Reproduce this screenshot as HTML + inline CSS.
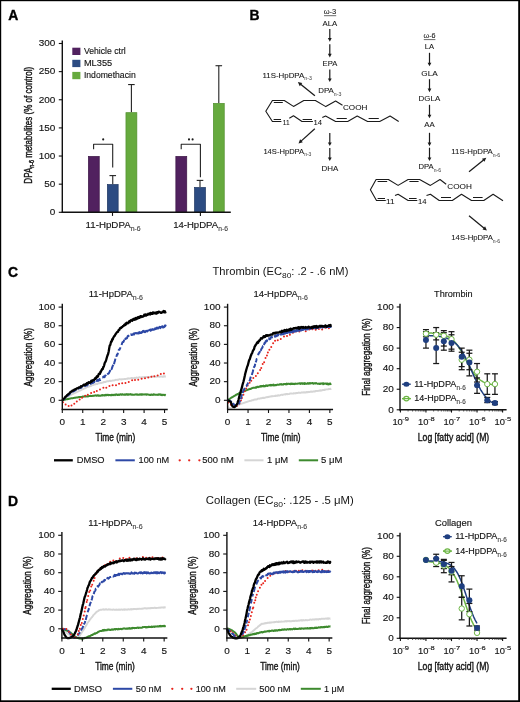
<!DOCTYPE html><html><head><meta charset="utf-8"><style>html,body{margin:0;padding:0;background:#fff;}svg{display:block; will-change:transform;} text{font-family:"Liberation Sans", sans-serif; stroke:#141414; stroke-width:0.14px;} text.cond{stroke-width:0.4px;} text.sm{stroke-width:0;} .pb text{stroke-width:0.07px;}</style></head><body>
<svg width="520" height="702" viewBox="0 0 520 702">
<text x="8.20" y="19.90" font-size="13.9" text-anchor="start" font-weight="bold" fill="#000" style="stroke:#000;stroke-width:0.35px">A</text>
<text x="249.40" y="20.10" font-size="13.9" text-anchor="start" font-weight="bold" fill="#000" style="stroke:#000;stroke-width:0.35px">B</text>
<text x="7.90" y="276.90" font-size="13.9" text-anchor="start" font-weight="bold" fill="#000" style="stroke:#000;stroke-width:0.35px">C</text>
<text x="7.90" y="505.90" font-size="13.9" text-anchor="start" font-weight="bold" fill="#000" style="stroke:#000;stroke-width:0.35px">D</text>
<rect x="88.35" y="156.38" width="10.90" height="55.92" fill="#51215f" stroke="#3c1747" stroke-width="0.7"/>
<line x1="112.75" y1="184.17" x2="112.75" y2="175.61" stroke="#222" stroke-width="1.1" />
<line x1="109.45" y1="175.61" x2="116.05" y2="175.61" stroke="#222" stroke-width="1.1" />
<rect x="107.35" y="184.52" width="10.80" height="27.78" fill="#2c4b82" stroke="#1f3762" stroke-width="0.7"/>
<line x1="131.40" y1="112.31" x2="131.40" y2="84.57" stroke="#222" stroke-width="1.1" />
<line x1="128.10" y1="84.57" x2="134.70" y2="84.57" stroke="#222" stroke-width="1.1" />
<rect x="125.95" y="112.66" width="10.90" height="99.64" fill="#66aa3e" stroke="#52902f" stroke-width="0.7"/>
<rect x="175.85" y="156.38" width="10.90" height="55.92" fill="#51215f" stroke="#3c1747" stroke-width="0.7"/>
<line x1="200.00" y1="187.09" x2="200.00" y2="180.39" stroke="#222" stroke-width="1.1" />
<line x1="196.70" y1="180.39" x2="203.30" y2="180.39" stroke="#222" stroke-width="1.1" />
<rect x="194.55" y="187.44" width="10.90" height="24.86" fill="#2c4b82" stroke="#1f3762" stroke-width="0.7"/>
<line x1="218.80" y1="103.02" x2="218.80" y2="65.72" stroke="#222" stroke-width="1.1" />
<line x1="215.50" y1="65.72" x2="222.10" y2="65.72" stroke="#222" stroke-width="1.1" />
<rect x="213.35" y="103.37" width="10.90" height="108.93" fill="#66aa3e" stroke="#52902f" stroke-width="0.7"/>
<line x1="62.30" y1="40.60" x2="62.30" y2="212.90" stroke="#111" stroke-width="1.4" />
<line x1="61.70" y1="212.30" x2="230.80" y2="212.30" stroke="#111" stroke-width="1.4" />
<line x1="58.80" y1="212.30" x2="62.30" y2="212.30" stroke="#111" stroke-width="1.1" />
<text x="55.35" y="215.05" font-size="9.5" text-anchor="end" fill="#141414" textLength="5.55" lengthAdjust="spacingAndGlyphs">0</text>
<line x1="58.80" y1="184.17" x2="62.30" y2="184.17" stroke="#111" stroke-width="1.1" />
<text x="55.35" y="186.92" font-size="9.5" text-anchor="end" fill="#141414" textLength="11.10" lengthAdjust="spacingAndGlyphs">50</text>
<line x1="58.80" y1="156.03" x2="62.30" y2="156.03" stroke="#111" stroke-width="1.1" />
<text x="55.35" y="158.78" font-size="9.5" text-anchor="end" fill="#141414" textLength="16.65" lengthAdjust="spacingAndGlyphs">100</text>
<line x1="58.80" y1="127.90" x2="62.30" y2="127.90" stroke="#111" stroke-width="1.1" />
<text x="55.35" y="130.65" font-size="9.5" text-anchor="end" fill="#141414" textLength="16.65" lengthAdjust="spacingAndGlyphs">150</text>
<line x1="58.80" y1="99.76" x2="62.30" y2="99.76" stroke="#111" stroke-width="1.1" />
<text x="55.35" y="102.51" font-size="9.5" text-anchor="end" fill="#141414" textLength="16.65" lengthAdjust="spacingAndGlyphs">200</text>
<line x1="58.80" y1="71.63" x2="62.30" y2="71.63" stroke="#111" stroke-width="1.1" />
<text x="55.35" y="74.38" font-size="9.5" text-anchor="end" fill="#141414" textLength="16.65" lengthAdjust="spacingAndGlyphs">250</text>
<line x1="58.80" y1="43.49" x2="62.30" y2="43.49" stroke="#111" stroke-width="1.1" />
<text x="55.35" y="46.24" font-size="9.5" text-anchor="end" fill="#141414" textLength="16.65" lengthAdjust="spacingAndGlyphs">300</text>
<line x1="112.50" y1="212.30" x2="112.50" y2="215.90" stroke="#111" stroke-width="1.1" />
<line x1="200.40" y1="212.30" x2="200.40" y2="215.90" stroke="#111" stroke-width="1.1" />
<polyline points="93.60,149.30 93.60,144.30 112.70,144.30 112.70,167.50" fill="none" stroke="#222" stroke-width="1.1" stroke-linejoin="round" />
<polyline points="181.20,149.30 181.20,144.30 200.40,144.30 200.40,177.20" fill="none" stroke="#222" stroke-width="1.1" stroke-linejoin="round" />
<circle cx="103.2" cy="139.4" r="1.05" fill="#1a1a1a"/>
<circle cx="189.0" cy="139.4" r="1.05" fill="#1a1a1a"/>
<circle cx="192.6" cy="139.4" r="1.05" fill="#1a1a1a"/>
<rect x="72.30" y="47.70" width="8.10" height="7.30" fill="#51215f"/>
<text x="83.91" y="54.20" font-size="8.9" font-weight="normal" fill="#141414" textLength="41.78" lengthAdjust="spacingAndGlyphs" >Vehicle ctrl</text>
<rect x="72.30" y="59.80" width="8.10" height="7.30" fill="#2c4b82"/>
<text x="83.91" y="66.10" font-size="8.9" font-weight="normal" fill="#141414" textLength="28.28" lengthAdjust="spacingAndGlyphs" >ML355</text>
<rect x="72.30" y="71.90" width="8.10" height="7.30" fill="#66aa3e"/>
<text x="83.91" y="78.00" font-size="8.9" font-weight="normal" fill="#141414" textLength="51.78" lengthAdjust="spacingAndGlyphs" >Indomethacin</text>
<text x="85.57" y="227.80" font-size="9.6" font-weight="normal" fill="#141414" textLength="55.06" lengthAdjust="spacingAndGlyphs" >11-HpDPA<tspan font-size="6.8" dy="2.80" fill="#444" stroke="#444">n-6</tspan></text>
<text x="173.17" y="227.80" font-size="9.6" font-weight="normal" fill="#141414" textLength="54.76" lengthAdjust="spacingAndGlyphs" >14-HpDPA<tspan font-size="6.8" dy="2.80" fill="#444" stroke="#444">n-6</tspan></text>
<g transform="translate(31.90,183.66) rotate(-90)"><text x="0" y="0" font-size="10.2" fill="#141414" class="cond" textLength="116.82" lengthAdjust="spacingAndGlyphs">DPA<tspan font-size="6.8" dy="2.2">n-6</tspan><tspan dy="-2.2"> metabolites (% of control)</tspan></text></g>
<g class="pb">
<text x="323.70" y="14.20" font-size="7.3" font-weight="normal" fill="#141414" textLength="12.60" lengthAdjust="spacingAndGlyphs" >ω-3</text>
<line x1="324.00" y1="15.70" x2="336.20" y2="15.70" stroke="#444" stroke-width="0.8" />
<text x="322.50" y="25.50" font-size="7.3" font-weight="normal" fill="#141414" textLength="14.70" lengthAdjust="spacingAndGlyphs" >ALA</text>
<line x1="329.80" y1="28.90" x2="329.80" y2="38.70" stroke="#1a1a1a" stroke-width="1.2" />
<path d="M327.90,38.10 L331.70,38.10 L329.80,41.70 Z" fill="#1a1a1a"/>
<line x1="329.80" y1="44.20" x2="329.80" y2="54.40" stroke="#1a1a1a" stroke-width="1.2" />
<path d="M327.90,53.80 L331.70,53.80 L329.80,57.40 Z" fill="#1a1a1a"/>
<text x="322.60" y="65.60" font-size="7.3" font-weight="normal" fill="#141414" textLength="14.70" lengthAdjust="spacingAndGlyphs" >EPA</text>
<line x1="329.80" y1="69.50" x2="329.80" y2="79.10" stroke="#1a1a1a" stroke-width="1.2" />
<path d="M327.90,78.50 L331.70,78.50 L329.80,82.10 Z" fill="#1a1a1a"/>
<text x="318.20" y="93.00" font-size="7.3" font-weight="normal" fill="#141414" textLength="23.20" lengthAdjust="spacingAndGlyphs" >DPA<tspan font-size="4.8" dy="2.70" fill="#555" stroke="#555">n-3</tspan></text>
<text x="262.50" y="77.50" font-size="7.3" font-weight="normal" fill="#141414" textLength="49.30" lengthAdjust="spacingAndGlyphs" >11S-HpDPA<tspan font-size="4.8" dy="2.70" fill="#555" stroke="#555">n-3</tspan></text>
<line x1="314.90" y1="95.80" x2="300.63" y2="84.30" stroke="#1a1a1a" stroke-width="1.25" />
<path d="M302.27,83.05 L299.76,86.17 L297.90,82.10 Z" fill="#1a1a1a"/>
<line x1="314.80" y1="128.70" x2="301.09" y2="141.15" stroke="#1a1a1a" stroke-width="1.25" />
<path d="M300.12,139.33 L302.81,142.29 L298.50,143.50 Z" fill="#1a1a1a"/>
<text x="263.40" y="153.70" font-size="7.3" font-weight="normal" fill="#141414" textLength="48.00" lengthAdjust="spacingAndGlyphs" >14S-HpDPA<tspan font-size="4.8" dy="2.70" fill="#555" stroke="#555">n-3</tspan></text>
<line x1="329.80" y1="133.00" x2="329.80" y2="143.00" stroke="#1a1a1a" stroke-width="1.2" />
<path d="M327.90,142.40 L331.70,142.40 L329.80,146.00 Z" fill="#1a1a1a"/>
<line x1="329.80" y1="147.90" x2="329.80" y2="158.00" stroke="#1a1a1a" stroke-width="1.2" />
<path d="M327.90,157.40 L331.70,157.40 L329.80,161.00 Z" fill="#1a1a1a"/>
<text x="321.50" y="171.00" font-size="7.3" font-weight="normal" fill="#141414" textLength="16.80" lengthAdjust="spacingAndGlyphs" >DHA</text>
<text x="343.00" y="109.90" font-size="7.3" font-weight="normal" fill="#141414" textLength="24.40" lengthAdjust="spacingAndGlyphs" >COOH</text>
<text x="282.80" y="124.70" font-size="7.3" font-weight="normal" fill="#141414" textLength="6.80" lengthAdjust="spacingAndGlyphs" >11</text>
<text x="313.40" y="124.70" font-size="7.3" font-weight="normal" fill="#141414" textLength="8.50" lengthAdjust="spacingAndGlyphs" >14</text>
<polyline points="342.50,105.20 335.60,101.00 325.80,106.60 315.40,100.50 303.80,100.50 293.50,106.40 284.30,100.50 272.40,100.50 265.80,111.20 272.40,121.50 281.40,121.50" fill="none" stroke="#1a1a1a" stroke-width="1.1" stroke-linejoin="round" />
<line x1="273.80" y1="102.50" x2="282.80" y2="102.50" stroke="#1a1a1a" stroke-width="1.0" />
<line x1="273.60" y1="119.50" x2="281.00" y2="119.50" stroke="#1a1a1a" stroke-width="1.0" />
<polyline points="289.30,118.20 293.50,115.70 302.00,121.50 312.90,121.50" fill="none" stroke="#1a1a1a" stroke-width="1.1" stroke-linejoin="round" />
<line x1="302.60" y1="119.50" x2="312.00" y2="119.50" stroke="#1a1a1a" stroke-width="1.0" />
<polyline points="322.30,117.60 325.60,116.00 335.60,121.50 347.70,121.50 357.20,116.00 367.60,121.50 379.70,121.50 390.10,116.00 398.70,121.50" fill="none" stroke="#1a1a1a" stroke-width="1.1" stroke-linejoin="round" />
<line x1="336.60" y1="118.50" x2="346.80" y2="118.50" stroke="#1a1a1a" stroke-width="1.0" />
<line x1="368.60" y1="118.50" x2="378.80" y2="118.50" stroke="#1a1a1a" stroke-width="1.0" />
<text x="423.50" y="38.30" font-size="7.3" font-weight="normal" fill="#141414" textLength="12.10" lengthAdjust="spacingAndGlyphs" >ω-6</text>
<line x1="423.80" y1="39.60" x2="435.40" y2="39.60" stroke="#444" stroke-width="0.8" />
<text x="424.70" y="48.80" font-size="7.3" font-weight="normal" fill="#141414" textLength="9.30" lengthAdjust="spacingAndGlyphs" >LA</text>
<line x1="429.50" y1="52.80" x2="429.50" y2="63.30" stroke="#1a1a1a" stroke-width="1.2" />
<path d="M427.60,62.70 L431.40,62.70 L429.50,66.30 Z" fill="#1a1a1a"/>
<text x="421.30" y="75.70" font-size="7.3" font-weight="normal" fill="#141414" textLength="16.40" lengthAdjust="spacingAndGlyphs" >GLA</text>
<line x1="429.50" y1="79.20" x2="429.50" y2="89.20" stroke="#1a1a1a" stroke-width="1.2" />
<path d="M427.60,88.60 L431.40,88.60 L429.50,92.20 Z" fill="#1a1a1a"/>
<text x="418.60" y="101.30" font-size="7.3" font-weight="normal" fill="#141414" textLength="21.60" lengthAdjust="spacingAndGlyphs" >DGLA</text>
<line x1="429.50" y1="104.80" x2="429.50" y2="115.30" stroke="#1a1a1a" stroke-width="1.2" />
<path d="M427.60,114.70 L431.40,114.70 L429.50,118.30 Z" fill="#1a1a1a"/>
<text x="424.30" y="127.30" font-size="7.3" font-weight="normal" fill="#141414" textLength="10.40" lengthAdjust="spacingAndGlyphs" >AA</text>
<line x1="429.50" y1="132.80" x2="429.50" y2="143.20" stroke="#1a1a1a" stroke-width="1.2" />
<path d="M427.60,142.60 L431.40,142.60 L429.50,146.20 Z" fill="#1a1a1a"/>
<line x1="429.50" y1="147.70" x2="429.50" y2="158.00" stroke="#1a1a1a" stroke-width="1.2" />
<path d="M427.60,157.40 L431.40,157.40 L429.50,161.00 Z" fill="#1a1a1a"/>
<text x="418.50" y="168.80" font-size="7.3" font-weight="normal" fill="#141414" textLength="22.50" lengthAdjust="spacingAndGlyphs" >DPA<tspan font-size="4.8" dy="2.70" fill="#555" stroke="#555">n-6</tspan></text>
<text x="451.30" y="154.40" font-size="7.3" font-weight="normal" fill="#141414" textLength="48.90" lengthAdjust="spacingAndGlyphs" >11S-HpDPA<tspan font-size="4.8" dy="2.70" fill="#555" stroke="#555">n-6</tspan></text>
<line x1="469.00" y1="171.70" x2="483.58" y2="159.90" stroke="#1a1a1a" stroke-width="1.25" />
<path d="M484.45,161.77 L481.93,158.66 L486.30,157.70 Z" fill="#1a1a1a"/>
<line x1="469.00" y1="215.80" x2="484.19" y2="228.19" stroke="#1a1a1a" stroke-width="1.25" />
<path d="M482.54,229.42 L485.06,226.32 L486.90,230.40 Z" fill="#1a1a1a"/>
<text x="451.30" y="239.80" font-size="7.3" font-weight="normal" fill="#141414" textLength="48.90" lengthAdjust="spacingAndGlyphs" >14S-HpDPA<tspan font-size="4.8" dy="2.70" fill="#555" stroke="#555">n-6</tspan></text>
<text x="447.30" y="188.80" font-size="7.3" font-weight="normal" fill="#141414" textLength="24.60" lengthAdjust="spacingAndGlyphs" >COOH</text>
<text x="386.10" y="203.80" font-size="7.3" font-weight="normal" fill="#141414" textLength="8.50" lengthAdjust="spacingAndGlyphs" >11</text>
<text x="418.10" y="203.80" font-size="7.3" font-weight="normal" fill="#141414" textLength="8.50" lengthAdjust="spacingAndGlyphs" >14</text>
<polyline points="446.20,184.20 440.00,179.50 430.40,185.40 419.60,179.50 408.10,179.50 398.10,185.40 388.40,179.50 376.10,179.50 370.40,189.70 376.50,200.50 385.80,200.50" fill="none" stroke="#1a1a1a" stroke-width="1.1" stroke-linejoin="round" />
<line x1="377.60" y1="181.50" x2="387.20" y2="181.50" stroke="#1a1a1a" stroke-width="1.0" />
<line x1="409.40" y1="181.50" x2="418.60" y2="181.50" stroke="#1a1a1a" stroke-width="1.0" />
<line x1="377.60" y1="198.50" x2="385.00" y2="198.50" stroke="#1a1a1a" stroke-width="1.0" />
<polyline points="395.00,195.60 398.10,194.30 408.10,200.50 417.30,200.50" fill="none" stroke="#1a1a1a" stroke-width="1.1" stroke-linejoin="round" />
<line x1="409.00" y1="198.50" x2="416.60" y2="198.50" stroke="#1a1a1a" stroke-width="1.0" />
<polyline points="426.50,195.60 430.40,194.30 439.20,200.50 452.30,200.50 461.50,194.20 471.50,200.50 483.80,200.50 493.10,194.20 503.00,200.70" fill="none" stroke="#1a1a1a" stroke-width="1.1" stroke-linejoin="round" />
<line x1="441.00" y1="197.50" x2="451.00" y2="197.50" stroke="#1a1a1a" stroke-width="1.0" />
<line x1="473.00" y1="197.50" x2="482.60" y2="197.50" stroke="#1a1a1a" stroke-width="1.0" />
</g>
<text x="212.53" y="275.00" font-size="10.4" font-weight="normal" fill="#141414" textLength="135.84" lengthAdjust="spacingAndGlyphs" class="sm">Thrombin (EC<tspan font-size="7.8" dy="2.5">80</tspan><tspan dy="-2.5">: .2 - .6 nM)</tspan></text>
<polyline points="62.30,400.30 62.57,400.12 62.90,399.89 63.27,399.63 63.69,399.37 64.15,399.08 64.64,398.64 65.16,398.39 65.70,397.93 66.27,397.59 66.85,397.27 67.44,396.81 68.04,396.54 68.64,396.12 69.05,395.96 69.48,395.72 69.91,395.43 70.35,395.12 70.79,395.02 71.25,394.77 71.71,394.45 72.19,394.16 72.67,393.99 73.15,393.79 73.65,393.43 74.15,393.37 74.66,392.97 75.17,392.84 75.69,392.62 76.22,392.38 76.76,392.09 77.30,391.73 77.84,391.61 78.26,391.32 78.69,391.11 79.13,390.96 79.57,390.71 80.02,390.63 80.47,390.42 80.93,390.16 81.39,389.81 81.86,389.66 82.33,389.48 82.80,389.17 83.28,388.99 83.76,388.83 84.24,388.43 84.72,388.24 85.20,388.20 85.68,387.86 86.17,387.67 86.65,387.31 87.13,387.17 87.61,387.16 88.08,386.66 88.56,386.86 89.03,386.54 89.50,386.20 89.96,386.32 90.43,385.98 90.90,386.05 91.36,385.56 91.83,385.34 92.30,385.29 92.76,384.96 93.23,385.12 93.69,384.76 94.16,384.67 94.63,384.54 95.09,384.46 95.56,384.11 96.03,383.91 96.49,384.04 96.96,383.80 97.42,384.01 97.89,383.52 98.36,383.43 98.82,383.11 99.29,383.08 99.76,383.26 100.22,383.08 100.69,382.80 101.16,383.05 101.62,382.68 102.07,382.74 102.53,382.65 102.97,382.58 103.41,382.08 103.85,382.34 104.29,382.17 104.73,381.99 105.16,381.63 105.60,381.98 106.04,381.68 106.48,381.54 106.92,381.26 107.37,381.21 107.82,381.10 108.28,381.34 108.75,381.18 109.22,381.13 109.70,380.75 110.19,380.62 110.69,380.99 111.20,380.89 111.73,380.77 112.26,380.68 112.81,380.46 113.22,380.33 113.64,380.45 114.06,380.53 114.49,380.24 114.92,380.20 115.36,380.02 115.80,379.74 116.25,379.83 116.70,379.86 117.16,379.74 117.62,379.64 118.08,379.93 118.55,379.39 119.02,379.40 119.50,379.28 119.97,379.26 120.45,379.43 120.94,379.36 121.43,379.46 121.92,379.11 122.41,379.37 122.90,379.30 123.40,379.17 123.90,379.13 124.40,378.98 124.90,379.08 125.41,379.05 125.91,378.91 126.42,378.88 126.93,378.68 127.44,378.82 127.95,378.29 128.46,378.39 128.97,378.59 129.40,378.49 129.84,378.40 130.29,378.35 130.73,378.44 131.18,377.99 131.63,377.87 132.08,378.12 132.54,378.07 133.00,378.25 133.46,378.20 133.92,378.03 134.38,378.03 134.85,377.68 135.32,378.01 135.78,378.05 136.25,377.49 136.72,377.69 137.20,377.87 137.67,377.61 138.14,377.86 138.62,377.55 139.09,377.26 139.57,377.29 140.04,377.35 140.52,377.56 141.00,377.47 141.47,377.55 141.95,377.18 142.42,377.28 142.90,377.11 143.37,377.33 143.84,377.36 144.31,377.01 144.78,376.88 145.25,376.93 145.72,376.93 146.19,376.90 146.65,376.91 147.12,377.18 147.58,376.99 148.05,377.06 148.54,377.22 149.04,377.20 149.55,377.03 150.06,377.03 150.58,376.76 151.11,376.60 151.64,376.87 152.18,376.57 152.72,376.53 153.26,376.53 153.80,376.85 154.35,376.91 154.89,376.90 155.43,376.90 155.98,376.88 156.51,376.64 157.05,376.47 157.58,376.49 158.10,376.69 158.62,376.58 159.13,376.49 159.63,376.88 160.12,376.55 160.60,376.40 161.07,376.46 161.53,376.47 161.98,376.62 162.41,376.78 162.83,376.43 163.23,376.68 163.62,376.41 163.98,376.31 164.33,376.62 164.66,376.61 164.97,376.30 165.26,376.42 165.53,376.72 165.78,376.74" fill="none" stroke="#d5d5d5" stroke-width="1.9" stroke-linejoin="round" />
<polyline points="62.30,400.30 62.56,400.24 62.87,400.16 63.23,400.08 63.63,400.07 64.06,399.77 64.53,399.68 65.03,399.73 65.56,399.43 66.10,399.27 66.67,399.22 67.25,399.18 67.84,399.01 68.44,399.00 68.83,398.95 69.23,398.63 69.65,398.63 70.07,398.58 70.50,398.40 70.95,398.45 71.40,398.25 71.85,398.18 72.32,398.26 72.79,398.16 73.27,398.07 73.76,398.00 74.25,397.83 74.75,397.83 75.26,397.71 75.76,397.71 76.28,397.43 76.80,397.50 77.32,397.40 77.84,397.29 78.26,397.14 78.68,397.23 79.11,397.02 79.53,397.10 79.95,397.04 80.38,396.99 80.81,397.12 81.24,396.92 81.68,396.97 82.12,397.00 82.56,396.62 83.01,396.84 83.46,396.66 83.92,396.49 84.39,396.53 84.86,396.59 85.34,396.45 85.83,396.39 86.33,396.21 86.83,396.54 87.34,396.25 87.87,396.38 88.40,396.33 88.94,395.98 89.50,396.10 89.90,396.04 90.31,395.87 90.73,395.74 91.15,396.02 91.57,395.88 92.00,395.92 92.44,395.89 92.88,395.73 93.32,395.88 93.77,395.79 94.22,395.80 94.68,395.43 95.14,395.58 95.61,395.42 96.07,395.34 96.54,395.82 97.02,395.57 97.50,395.26 97.98,395.31 98.46,395.81 98.94,395.80 99.43,395.53 99.92,395.78 100.41,395.63 100.90,395.73 101.39,395.26 101.89,395.15 102.38,395.04 102.88,395.57 103.37,395.13 103.87,395.15 104.37,395.51 104.86,394.93 105.36,394.85 105.86,395.38 106.31,394.82 106.75,395.21 107.20,395.12 107.65,394.73 108.11,394.82 108.56,395.30 109.02,395.08 109.48,395.00 109.94,395.11 110.40,395.20 110.86,395.09 111.32,394.77 111.79,395.27 112.26,394.85 112.72,394.92 113.19,395.21 113.66,394.96 114.13,394.72 114.61,394.79 115.08,395.11 115.56,394.40 116.03,394.53 116.51,394.38 116.99,395.01 117.47,394.87 117.95,395.02 118.43,394.46 118.91,394.82 119.39,394.91 119.88,394.68 120.36,394.30 120.85,394.36 121.33,394.76 121.82,394.83 122.31,394.25 122.80,394.50 123.28,394.39 123.77,394.84 124.26,394.85 124.72,394.37 125.18,394.56 125.63,394.82 126.09,394.17 126.55,394.39 127.01,394.26 127.47,394.79 127.93,394.21 128.39,394.80 128.85,394.20 129.31,394.50 129.77,394.59 130.24,394.42 130.70,394.14 131.17,394.64 131.63,394.74 132.10,394.44 132.57,394.66 133.04,394.75 133.51,394.71 133.98,394.80 134.45,394.69 134.92,394.61 135.39,394.61 135.87,394.28 136.34,394.63 136.82,394.47 137.30,394.72 137.78,394.59 138.26,394.84 138.74,394.67 139.22,394.85 139.70,394.32 140.19,394.46 140.67,394.73 141.16,394.52 141.64,394.18 142.13,394.80 142.62,394.27 143.11,394.57 143.61,394.52 144.10,394.27 144.56,394.60 145.03,394.52 145.50,394.39 145.99,394.18 146.49,394.66 147.00,394.30 147.51,394.40 148.03,394.46 148.56,394.63 149.09,394.68 149.63,394.91 150.17,394.86 150.71,394.91 151.26,394.42 151.81,394.78 152.36,394.86 152.91,394.93 153.46,394.37 154.01,394.35 154.56,394.51 155.10,394.81 155.64,394.85 156.18,394.82 156.71,394.70 157.24,394.93 157.76,394.72 158.27,394.87 158.78,394.35 159.28,394.35 159.77,394.68 160.25,394.91 160.72,394.38 161.17,394.88 161.62,394.85 162.05,395.12 162.47,394.84 162.88,394.78 163.27,394.76 163.65,394.99 164.00,394.77 164.35,395.15 164.67,394.96 164.98,395.10 165.26,394.87 165.53,395.14 165.78,395.16" fill="none" stroke="#3d8a2e" stroke-width="2.0" stroke-linejoin="round" />
<circle cx="63.02" cy="402.37" r="1.0" fill="#e8241c"/>
<circle cx="65.63" cy="404.44" r="1.0" fill="#e8241c"/>
<circle cx="68.64" cy="405.89" r="1.0" fill="#e8241c"/>
<circle cx="71.50" cy="405.60" r="1.0" fill="#e8241c"/>
<circle cx="74.28" cy="403.77" r="1.0" fill="#e8241c"/>
<circle cx="76.79" cy="401.44" r="1.0" fill="#e8241c"/>
<circle cx="79.67" cy="399.50" r="1.0" fill="#e8241c"/>
<circle cx="82.08" cy="397.68" r="1.0" fill="#e8241c"/>
<circle cx="85.21" cy="395.87" r="1.0" fill="#e8241c"/>
<circle cx="87.82" cy="394.85" r="1.0" fill="#e8241c"/>
<circle cx="91.14" cy="392.99" r="1.0" fill="#e8241c"/>
<circle cx="94.20" cy="392.01" r="1.0" fill="#e8241c"/>
<circle cx="96.80" cy="391.08" r="1.0" fill="#e8241c"/>
<circle cx="100.00" cy="389.38" r="1.0" fill="#e8241c"/>
<circle cx="103.36" cy="387.81" r="1.0" fill="#e8241c"/>
<circle cx="106.30" cy="387.66" r="1.0" fill="#e8241c"/>
<circle cx="109.42" cy="386.00" r="1.0" fill="#e8241c"/>
<circle cx="112.65" cy="385.20" r="1.0" fill="#e8241c"/>
<circle cx="116.02" cy="385.19" r="1.0" fill="#e8241c"/>
<circle cx="119.04" cy="383.65" r="1.0" fill="#e8241c"/>
<circle cx="122.21" cy="383.36" r="1.0" fill="#e8241c"/>
<circle cx="125.44" cy="382.89" r="1.0" fill="#e8241c"/>
<circle cx="128.77" cy="382.00" r="1.0" fill="#e8241c"/>
<circle cx="132.13" cy="380.36" r="1.0" fill="#e8241c"/>
<circle cx="134.98" cy="379.91" r="1.0" fill="#e8241c"/>
<circle cx="138.28" cy="379.63" r="1.0" fill="#e8241c"/>
<circle cx="141.64" cy="378.67" r="1.0" fill="#e8241c"/>
<circle cx="144.99" cy="378.35" r="1.0" fill="#e8241c"/>
<circle cx="148.28" cy="377.51" r="1.0" fill="#e8241c"/>
<circle cx="151.42" cy="376.74" r="1.0" fill="#e8241c"/>
<circle cx="154.40" cy="376.18" r="1.0" fill="#e8241c"/>
<circle cx="157.67" cy="375.43" r="1.0" fill="#e8241c"/>
<circle cx="160.81" cy="373.91" r="1.0" fill="#e8241c"/>
<circle cx="163.91" cy="373.38" r="1.0" fill="#e8241c"/>
<polyline points="62.30,400.30 62.56,400.09 62.85,399.84 63.19,399.55 63.56,399.38 63.96,399.11 64.39,398.72 64.84,398.11 65.32,397.60 65.81,397.02" fill="none" stroke="#2d48a6" stroke-width="2.0" stroke-linejoin="round" stroke-linecap="butt"/>
<polyline points="66.85,396.30 67.39,395.77 67.93,395.50 68.48,394.98 69.03,394.83 69.58,393.94 70.13,393.83 70.66,393.00" fill="none" stroke="#2d48a6" stroke-width="2.0" stroke-linejoin="round" stroke-linecap="butt"/>
<polyline points="72.20,392.31 72.68,391.90 73.14,391.37 73.65,391.00 74.15,391.04 74.65,390.77 75.15,390.23 75.64,389.94 76.13,389.81 76.62,389.67" fill="none" stroke="#2d48a6" stroke-width="2.0" stroke-linejoin="round" stroke-linecap="butt"/>
<polyline points="78.06,388.98 78.53,388.68 79.01,388.12 79.48,388.15 79.95,387.76 80.42,387.89 80.89,387.91 81.35,387.71 81.82,386.87 82.28,386.89 82.75,387.07" fill="none" stroke="#2d48a6" stroke-width="2.0" stroke-linejoin="round" stroke-linecap="butt"/>
<polyline points="84.20,386.04 84.68,386.10 85.15,386.08 85.62,385.40 86.09,384.88 86.56,385.53 87.03,385.59 87.50,385.00 87.96,384.70 88.43,384.14" fill="none" stroke="#2d48a6" stroke-width="2.0" stroke-linejoin="round" stroke-linecap="butt"/>
<polyline points="90.31,383.58 90.79,383.83 91.27,382.44 91.75,383.26 92.21,382.24 92.69,383.01 93.17,382.83 93.66,381.73 94.15,382.31 94.64,381.01" fill="none" stroke="#2d48a6" stroke-width="2.0" stroke-linejoin="round" stroke-linecap="butt"/>
<polyline points="96.14,381.63 96.63,381.10 97.12,380.48 97.61,379.80 98.09,380.94 98.56,380.32 99.02,380.41 99.48,378.93 99.92,380.11 100.34,380.05 100.76,379.82" fill="none" stroke="#2d48a6" stroke-width="2.0" stroke-linejoin="round" stroke-linecap="butt"/>
<polyline points="102.29,377.56 102.82,377.48 103.32,376.71 103.80,376.49 104.26,377.17 104.71,377.07 105.15,375.46 105.58,375.41 106.01,376.24" fill="none" stroke="#2d48a6" stroke-width="2.0" stroke-linejoin="round" stroke-linecap="butt"/>
<polyline points="107.29,374.42 107.80,373.95 108.30,373.66 108.80,373.36 109.29,372.30 109.78,371.56 110.25,369.91" fill="none" stroke="#2d48a6" stroke-width="2.0" stroke-linejoin="round" stroke-linecap="butt"/>
<polyline points="111.15,368.57 111.59,369.14 112.00,368.18 112.40,366.67 112.98,365.47 113.51,364.85" fill="none" stroke="#2d48a6" stroke-width="2.0" stroke-linejoin="round" stroke-linecap="butt"/>
<polyline points="114.00,364.17 114.46,362.10 114.92,360.90 115.39,358.62" fill="none" stroke="#2d48a6" stroke-width="2.0" stroke-linejoin="round" stroke-linecap="butt"/>
<polyline points="116.39,356.88 116.92,354.62 117.44,354.70 117.97,352.71" fill="none" stroke="#2d48a6" stroke-width="2.0" stroke-linejoin="round" stroke-linecap="butt"/>
<polyline points="118.50,350.71 119.03,349.51 119.56,349.53 120.08,348.41 120.58,347.29" fill="none" stroke="#2d48a6" stroke-width="2.0" stroke-linejoin="round" stroke-linecap="butt"/>
<polyline points="121.58,344.94 122.10,343.17 122.65,341.99 123.24,342.04 123.67,341.54 124.11,339.79" fill="none" stroke="#2d48a6" stroke-width="2.0" stroke-linejoin="round" stroke-linecap="butt"/>
<polyline points="125.01,339.80 125.48,338.49 125.96,338.63 126.47,338.19 127.00,338.17 127.56,336.45 128.15,335.76 128.55,335.97 128.95,335.22" fill="none" stroke="#2d48a6" stroke-width="2.0" stroke-linejoin="round" stroke-linecap="butt"/>
<polyline points="130.60,334.39 131.04,334.22 131.50,335.01 131.97,335.08 132.46,334.62 132.97,334.35 133.51,333.46 134.08,334.55 134.68,333.34 135.31,333.26 135.69,333.01 136.09,332.99 136.51,333.16 136.94,333.52 137.39,333.42 137.85,333.24 138.32,332.43 138.80,333.50 139.29,333.19 139.78,332.15 140.29,332.89 140.79,333.09 141.30,333.03 141.81,332.05 142.32,332.32 142.83,331.12 143.34,331.17 143.84,330.89 144.34,331.99 144.84,332.19 145.32,332.06 145.80,331.28 146.26,330.82 146.71,331.16 147.15,331.41 147.58,331.01 148.11,330.53 148.64,330.31 149.15,330.05 149.65,329.76 150.14,329.93 150.63,330.72 151.11,329.38 151.57,330.17 152.04,329.59 152.50,329.79 152.95,329.05 153.40,329.83 153.85,329.62 154.30,329.50 154.74,329.53 155.19,328.19 155.63,328.58 156.08,328.88 156.53,328.64 156.98,327.52 157.50,328.20 158.04,328.53 158.59,327.42 159.15,327.53 159.72,326.82 160.29,328.17 160.85,327.40 161.42,326.68 161.97,326.50 162.51,326.24 163.02,327.58 163.52,327.03 163.99,327.20 164.43,326.97 164.83,325.56 165.19,326.12 165.51,325.46 165.78,326.33" fill="none" stroke="#2d48a6" stroke-width="2.0" stroke-linejoin="round" stroke-linecap="butt"/>
<polyline points="62.30,400.30 62.58,400.00 62.94,399.62 63.37,398.96 63.84,398.70 64.36,398.27 64.91,397.39 65.47,396.69 66.05,396.59 66.62,395.71 67.17,395.13 67.70,394.84 68.19,394.27 68.64,393.99 69.19,393.44 69.66,392.97 70.09,392.38 70.48,392.00 70.89,391.94 71.33,391.73 71.83,391.21 72.42,390.64 73.14,390.51 73.50,390.23 73.90,390.09 74.31,389.53 74.74,389.46 75.20,389.52 75.67,389.28 76.15,388.88 76.64,388.56 77.15,388.27 77.66,388.38 78.18,388.11 78.70,387.51 79.23,387.48 79.75,387.34 80.27,387.09 80.79,386.32 81.29,386.63 81.79,386.17 82.28,386.13 82.75,385.84 83.24,385.15 83.74,384.75 84.24,385.18 84.74,385.12 85.25,384.28 85.75,384.65 86.25,384.65 86.75,383.30 87.25,383.66 87.74,382.89 88.22,383.19 88.70,382.29 89.17,382.63 89.63,382.82 90.08,382.80 90.52,381.76 90.94,381.38 91.35,380.70 91.75,381.76 92.34,380.52 92.90,380.57 93.43,379.98 93.94,380.22 94.42,379.64 94.88,378.88 95.33,377.83 95.76,378.82 96.19,377.78 96.62,376.84 97.04,376.12 97.47,376.95 98.00,376.46 98.52,374.44 99.03,373.70 99.54,373.81 100.03,373.80 100.51,371.60 100.96,371.78 101.40,370.20 101.80,369.99 102.18,369.00 102.80,368.99 103.27,366.98 103.68,366.95 104.11,365.53 104.63,363.37 105.09,362.13 105.59,361.77 106.11,360.15 106.65,358.22 107.17,356.38 107.67,355.01 108.11,353.96 108.73,351.30 109.23,348.12 109.74,345.56 110.36,344.87 110.78,342.86 111.23,341.45 111.70,341.62 112.19,339.28 112.72,339.51 113.26,337.73 113.83,336.84 114.25,336.03 114.68,335.89 115.12,335.02 115.58,334.08 116.05,333.69 116.52,332.64 117.01,332.36 117.51,331.74 118.02,331.81 118.54,330.20 118.97,329.92 119.39,329.85 119.81,328.48 120.23,327.98 120.66,328.05 121.11,328.05 121.56,327.10 122.04,327.26 122.55,326.77 123.08,325.82 123.65,325.94 124.26,324.91 124.65,324.52 125.06,325.04 125.48,323.77 125.91,324.43 126.36,323.07 126.82,322.73 127.29,322.90 127.77,323.40 128.26,322.39 128.75,322.33 129.25,321.11 129.75,322.22 130.25,320.76 130.75,320.27 131.25,320.46 131.74,320.08 132.24,320.88 132.72,319.33 133.20,319.92 133.67,318.92 134.16,318.75 134.65,319.79 135.13,318.52 135.62,318.06 136.10,319.30 136.58,318.61 137.07,317.72 137.55,318.52 138.03,317.09 138.51,317.94 138.99,316.84 139.48,317.78 139.96,316.99 140.44,316.11 140.93,317.12 141.41,316.86 141.90,316.28 142.38,316.42 142.87,316.73 143.33,316.33 143.79,316.22 144.23,314.77 144.68,315.06 145.11,314.56 145.55,315.65 145.99,314.48 146.42,315.48 146.86,314.66 147.31,314.36 147.76,314.70 148.21,313.72 148.68,314.14 149.15,313.98 149.64,313.36 150.13,314.55 150.65,312.95 151.17,313.44 151.72,313.73 152.28,312.94 152.69,313.75 153.12,312.46 153.57,313.07 154.04,313.36 154.53,312.60 155.04,313.06 155.55,313.43 156.08,312.39 156.62,313.48 157.16,312.11 157.70,312.98 158.25,312.26 158.80,311.60 159.35,312.19 159.89,311.99 160.42,312.51 160.95,312.96 161.46,312.84 161.96,312.58 162.45,311.73 162.92,311.98 163.37,311.78 163.79,311.08 164.20,312.31 164.57,312.10 164.92,311.34 165.24,312.36 165.53,312.35 165.78,311.72" fill="none" stroke="#000" stroke-width="2.3" stroke-linejoin="round" />
<line x1="62.30" y1="303.80" x2="62.30" y2="410.10" stroke="#111" stroke-width="1.4" />
<line x1="61.70" y1="409.50" x2="167.75" y2="409.50" stroke="#111" stroke-width="1.4" />
<line x1="58.60" y1="400.30" x2="62.30" y2="400.30" stroke="#111" stroke-width="1.1" />
<text x="55.20" y="403.05" font-size="9.5" text-anchor="end" fill="#141414" textLength="5.55" lengthAdjust="spacingAndGlyphs">0</text>
<line x1="58.60" y1="381.66" x2="62.30" y2="381.66" stroke="#111" stroke-width="1.1" />
<text x="55.20" y="384.41" font-size="9.5" text-anchor="end" fill="#141414" textLength="11.10" lengthAdjust="spacingAndGlyphs">20</text>
<line x1="58.60" y1="363.02" x2="62.30" y2="363.02" stroke="#111" stroke-width="1.1" />
<text x="55.20" y="365.77" font-size="9.5" text-anchor="end" fill="#141414" textLength="11.10" lengthAdjust="spacingAndGlyphs">40</text>
<line x1="58.60" y1="344.38" x2="62.30" y2="344.38" stroke="#111" stroke-width="1.1" />
<text x="55.20" y="347.13" font-size="9.5" text-anchor="end" fill="#141414" textLength="11.10" lengthAdjust="spacingAndGlyphs">60</text>
<line x1="58.60" y1="325.74" x2="62.30" y2="325.74" stroke="#111" stroke-width="1.1" />
<text x="55.20" y="328.49" font-size="9.5" text-anchor="end" fill="#141414" textLength="11.10" lengthAdjust="spacingAndGlyphs">80</text>
<line x1="58.60" y1="307.10" x2="62.30" y2="307.10" stroke="#111" stroke-width="1.1" />
<text x="55.20" y="309.85" font-size="9.5" text-anchor="end" fill="#141414" textLength="16.65" lengthAdjust="spacingAndGlyphs">100</text>
<line x1="62.30" y1="409.50" x2="62.30" y2="413.00" stroke="#111" stroke-width="1.1" />
<text x="62.30" y="425.40" font-size="9.5" text-anchor="middle" fill="#141414" textLength="5.55" lengthAdjust="spacingAndGlyphs">0</text>
<line x1="82.75" y1="409.50" x2="82.75" y2="413.00" stroke="#111" stroke-width="1.1" />
<text x="82.75" y="425.40" font-size="9.5" text-anchor="middle" fill="#141414" textLength="5.55" lengthAdjust="spacingAndGlyphs">1</text>
<line x1="103.20" y1="409.50" x2="103.20" y2="413.00" stroke="#111" stroke-width="1.1" />
<text x="103.20" y="425.40" font-size="9.5" text-anchor="middle" fill="#141414" textLength="5.55" lengthAdjust="spacingAndGlyphs">2</text>
<line x1="123.65" y1="409.50" x2="123.65" y2="413.00" stroke="#111" stroke-width="1.1" />
<text x="123.65" y="425.40" font-size="9.5" text-anchor="middle" fill="#141414" textLength="5.55" lengthAdjust="spacingAndGlyphs">3</text>
<line x1="144.10" y1="409.50" x2="144.10" y2="413.00" stroke="#111" stroke-width="1.1" />
<text x="144.10" y="425.40" font-size="9.5" text-anchor="middle" fill="#141414" textLength="5.55" lengthAdjust="spacingAndGlyphs">4</text>
<line x1="164.55" y1="409.50" x2="164.55" y2="413.00" stroke="#111" stroke-width="1.1" />
<text x="164.55" y="425.40" font-size="9.5" text-anchor="middle" fill="#141414" textLength="5.55" lengthAdjust="spacingAndGlyphs">5</text>
<text x="88.78" y="296.90" font-size="9.5" font-weight="normal" fill="#141414" textLength="54.25" lengthAdjust="spacingAndGlyphs" >11-HpDPA<tspan font-size="7.0" dy="2.90" fill="#444" stroke="#444">n-6</tspan></text>
<text x="95.61" y="440.50" font-size="10.8" font-weight="normal" fill="#141414" textLength="39.69" lengthAdjust="spacingAndGlyphs" class="cond">Time (min)</text>
<g transform="translate(31.60,386.40) rotate(-90)"><text x="0" y="0" font-size="10.9" fill="#141414" class="cond" textLength="58.40" lengthAdjust="spacingAndGlyphs">Aggregation (%)</text></g>
<polyline points="227.60,405.89 227.80,406.23 227.98,406.77 228.24,407.38 228.68,407.99 229.38,408.27 230.46,408.28 230.76,408.14 231.09,408.06 231.45,408.03 231.82,407.82 232.22,407.71 232.64,407.62 233.08,407.30 233.53,407.25 234.00,407.07 234.48,406.88 234.98,406.56 235.48,406.29 235.99,406.08 236.51,405.92 237.04,405.71 237.57,405.53 238.10,405.16 238.63,404.94 239.16,404.75 239.68,404.46 240.20,404.28 240.72,403.96 241.23,403.79 241.72,403.68 242.21,403.36 242.68,403.35 243.14,403.09 243.63,402.95 244.11,402.82 244.59,402.71 245.06,402.37 245.54,402.41 246.01,402.11 246.48,401.85 246.95,401.94 247.41,401.78 247.88,401.51 248.34,401.40 248.80,401.22 249.26,401.02 249.73,401.12 250.18,400.94 250.64,400.81 251.10,400.79 251.56,400.33 252.02,400.24 252.48,400.15 252.94,400.33 253.41,399.84 253.87,399.77 254.33,399.78 254.80,399.53 255.26,399.56 255.70,399.56 256.12,399.53 256.54,399.36 256.95,399.37 257.35,399.13 257.74,398.81 258.13,398.75 258.52,398.58 258.91,398.57 259.31,398.74 259.71,398.50 260.12,398.48 260.54,398.20 260.97,398.27 261.41,398.33 261.88,398.03 262.36,397.77 262.86,398.09 263.39,397.63 263.94,398.02 264.52,397.78 265.13,397.69 265.78,397.30 266.45,397.07 266.81,397.12 267.18,397.29 267.56,396.92 267.95,397.16 268.34,397.15 268.74,396.70 269.15,396.79 269.57,396.69 270.00,396.63 270.43,396.38 270.87,396.60 271.31,396.32 271.76,396.32 272.22,396.16 272.68,396.32 273.15,396.08 273.62,396.09 274.09,396.16 274.57,396.13 275.06,395.83 275.55,396.05 276.04,395.51 276.53,395.86 277.03,395.84 277.53,395.72 278.03,395.18 278.54,395.43 279.04,395.47 279.55,395.45 280.06,395.37 280.57,394.93 281.08,394.88 281.59,394.77 282.10,394.67 282.61,394.97 283.12,394.60 283.63,394.66 284.14,394.33 284.64,394.26 285.15,394.14 285.65,394.54 286.15,394.02 286.65,393.92 287.14,393.84 287.64,394.24 288.12,394.12 288.61,394.11 289.09,394.10 289.56,393.58 290.03,393.54 290.50,393.59 290.97,393.43 291.44,393.48 291.91,393.62 292.38,393.67 292.86,393.62 293.34,393.21 293.82,393.47 294.29,393.36 294.78,393.25 295.26,393.43 295.74,393.25 296.22,393.19 296.70,392.91 297.19,393.06 297.67,393.04 298.15,392.64 298.64,392.85 299.12,392.62 299.60,392.71 300.08,392.99 300.57,392.74 301.05,392.69 301.53,392.46 302.01,392.66 302.48,392.42 302.96,392.47 303.44,392.61 303.91,392.21 304.38,392.60 304.85,392.15 305.32,392.48 305.79,392.53 306.25,392.38 306.71,392.02 307.17,391.86 307.63,392.36 308.09,392.05 308.54,392.01 308.99,391.79 309.43,392.09 309.88,391.87 310.32,391.91 310.75,391.59 311.18,391.87 311.61,391.44 312.04,391.76 312.46,391.75 312.88,391.43 313.41,391.47 313.95,391.62 314.49,391.26 315.04,391.50 315.59,391.03 316.14,391.00 316.69,390.87 317.25,390.88 317.80,390.96 318.35,390.85 318.90,390.77 319.45,390.41 320.00,390.78 320.54,390.24 321.08,390.64 321.61,390.46 322.14,390.34 322.66,389.90 323.18,390.04 323.69,390.03 324.19,389.66 324.68,389.95 325.16,389.74 325.63,389.62 326.10,389.42 326.55,389.35 326.99,389.33 327.41,389.43 327.83,389.37 328.22,389.40 328.61,388.95 328.98,388.99 329.33,388.89 329.67,389.15 329.99,388.95 330.29,388.72 330.57,388.78 330.83,388.99 331.08,388.76" fill="none" stroke="#d5d5d5" stroke-width="1.9" stroke-linejoin="round" />
<polyline points="227.60,400.30 227.87,400.12 228.20,399.89 228.57,399.63 228.99,399.21 229.45,399.09 229.94,398.77 230.46,398.37 231.00,397.87 231.57,397.45 232.15,397.30 232.74,396.93 233.34,396.53 233.94,396.16 234.35,395.87 234.78,395.75 235.21,395.46 235.65,395.26 236.09,394.76 236.55,394.59 237.01,394.55 237.49,394.03 237.97,394.06 238.45,393.72 238.95,393.28 239.45,393.09 239.96,392.87 240.47,392.73 240.99,392.56 241.52,392.18 242.06,392.12 242.60,391.86 243.14,391.58 243.56,391.54 243.99,391.24 244.43,390.91 244.87,390.77 245.32,390.68 245.77,390.45 246.23,390.36 246.69,390.34 247.16,389.94 247.63,389.88 248.10,389.53 248.58,389.27 249.06,389.37 249.54,389.13 250.02,388.86 250.50,388.91 250.98,388.88 251.47,388.40 251.95,388.14 252.43,388.07 252.91,387.98 253.38,387.73 253.86,387.73 254.33,387.63 254.80,387.66 255.26,387.67 255.70,387.30 256.12,387.65 256.54,387.28 256.95,386.87 257.35,386.84 257.74,386.84 258.13,387.11 258.52,386.87 258.91,386.77 259.31,386.55 259.71,386.68 260.12,386.37 260.54,386.07 260.97,386.70 261.41,386.20 261.88,386.03 262.36,386.33 262.86,386.17 263.39,385.66 263.94,386.47 264.52,385.93 265.13,386.22 265.78,385.57 266.45,385.35 266.81,385.70 267.18,386.06 267.56,385.57 267.95,385.57 268.34,385.36 268.74,385.51 269.15,385.35 269.57,385.13 270.00,385.38 270.43,385.44 270.87,384.90 271.31,385.54 271.76,385.06 272.22,385.29 272.68,384.90 273.15,385.45 273.62,384.61 274.09,385.15 274.57,385.39 275.06,385.14 275.55,384.98 276.04,385.30 276.53,384.88 277.03,384.84 277.53,384.54 278.03,384.82 278.54,384.86 279.04,384.85 279.55,384.33 280.06,384.11 280.57,384.45 281.08,384.70 281.59,384.12 282.10,384.47 282.61,384.60 283.12,384.64 283.63,384.00 284.14,383.93 284.64,384.06 285.15,384.18 285.65,384.06 286.15,384.35 286.65,383.63 287.14,384.17 287.64,383.87 288.12,383.68 288.61,383.65 289.09,383.95 289.56,384.09 290.03,383.83 290.50,384.20 290.97,383.52 291.44,383.94 291.91,383.46 292.38,383.99 292.86,383.87 293.34,383.96 293.82,383.78 294.29,383.99 294.78,384.14 295.26,383.46 295.74,383.85 296.22,383.87 296.70,383.81 297.19,383.63 297.67,383.66 298.15,383.46 298.64,383.42 299.12,383.69 299.60,383.15 300.08,383.21 300.57,383.94 301.05,383.22 301.53,383.13 302.01,383.24 302.48,383.83 302.96,383.18 303.44,383.36 303.91,383.93 304.38,383.93 304.85,383.04 305.32,383.31 305.79,383.69 306.25,383.82 306.71,383.78 307.17,383.69 307.63,383.18 308.09,383.58 308.54,383.76 308.99,383.06 309.43,383.16 309.88,383.74 310.32,383.07 310.75,383.33 311.18,383.17 311.61,383.27 312.04,383.06 312.46,383.16 312.88,383.12 313.41,383.71 313.95,383.26 314.49,383.41 315.04,383.22 315.59,383.51 316.14,383.11 316.69,383.43 317.25,383.71 317.80,383.75 318.35,383.85 318.90,383.54 319.45,383.96 320.00,383.59 320.54,383.91 321.08,383.60 321.61,383.62 322.14,383.60 322.66,383.31 323.18,384.13 323.69,383.37 324.19,383.74 324.68,383.67 325.16,383.60 325.63,383.45 326.10,383.90 326.55,383.88 326.99,383.40 327.41,384.24 327.83,383.73 328.22,383.75 328.61,384.33 328.98,383.81 329.33,383.75 329.67,383.54 329.99,384.11 330.29,383.51 330.57,383.96 330.83,384.00 331.08,383.62" fill="none" stroke="#3d8a2e" stroke-width="2.0" stroke-linejoin="round" />
<circle cx="228.32" cy="402.45" r="1.0" fill="#e8241c"/>
<circle cx="230.91" cy="404.65" r="1.0" fill="#e8241c"/>
<circle cx="233.36" cy="406.64" r="1.0" fill="#e8241c"/>
<circle cx="236.87" cy="406.06" r="1.0" fill="#e8241c"/>
<circle cx="239.40" cy="403.62" r="1.0" fill="#e8241c"/>
<circle cx="240.96" cy="400.59" r="1.0" fill="#e8241c"/>
<circle cx="241.95" cy="397.96" r="1.0" fill="#e8241c"/>
<circle cx="243.41" cy="394.85" r="1.0" fill="#e8241c"/>
<circle cx="244.70" cy="391.24" r="1.0" fill="#e8241c"/>
<circle cx="246.19" cy="388.41" r="1.0" fill="#e8241c"/>
<circle cx="247.67" cy="385.47" r="1.0" fill="#e8241c"/>
<circle cx="249.65" cy="382.76" r="1.0" fill="#e8241c"/>
<circle cx="251.26" cy="380.63" r="1.0" fill="#e8241c"/>
<circle cx="253.31" cy="378.11" r="1.0" fill="#e8241c"/>
<circle cx="255.85" cy="375.96" r="1.0" fill="#e8241c"/>
<circle cx="257.79" cy="373.22" r="1.0" fill="#e8241c"/>
<circle cx="260.14" cy="370.10" r="1.0" fill="#e8241c"/>
<circle cx="261.24" cy="368.11" r="1.0" fill="#e8241c"/>
<circle cx="262.70" cy="364.09" r="1.0" fill="#e8241c"/>
<circle cx="264.14" cy="362.32" r="1.0" fill="#e8241c"/>
<circle cx="265.52" cy="357.95" r="1.0" fill="#e8241c"/>
<circle cx="266.93" cy="355.60" r="1.0" fill="#e8241c"/>
<circle cx="267.87" cy="352.59" r="1.0" fill="#e8241c"/>
<circle cx="269.37" cy="349.80" r="1.0" fill="#e8241c"/>
<circle cx="271.22" cy="347.05" r="1.0" fill="#e8241c"/>
<circle cx="273.11" cy="343.36" r="1.0" fill="#e8241c"/>
<circle cx="275.07" cy="340.84" r="1.0" fill="#e8241c"/>
<circle cx="277.75" cy="340.26" r="1.0" fill="#e8241c"/>
<circle cx="280.78" cy="339.01" r="1.0" fill="#e8241c"/>
<circle cx="283.99" cy="336.53" r="1.0" fill="#e8241c"/>
<circle cx="287.00" cy="335.99" r="1.0" fill="#e8241c"/>
<circle cx="289.87" cy="334.71" r="1.0" fill="#e8241c"/>
<circle cx="292.93" cy="332.85" r="1.0" fill="#e8241c"/>
<circle cx="295.95" cy="331.51" r="1.0" fill="#e8241c"/>
<circle cx="299.33" cy="331.49" r="1.0" fill="#e8241c"/>
<circle cx="302.39" cy="330.10" r="1.0" fill="#e8241c"/>
<circle cx="305.72" cy="331.21" r="1.0" fill="#e8241c"/>
<circle cx="309.25" cy="329.47" r="1.0" fill="#e8241c"/>
<circle cx="312.36" cy="329.20" r="1.0" fill="#e8241c"/>
<circle cx="315.69" cy="329.86" r="1.0" fill="#e8241c"/>
<circle cx="318.85" cy="329.10" r="1.0" fill="#e8241c"/>
<circle cx="322.12" cy="329.42" r="1.0" fill="#e8241c"/>
<circle cx="325.26" cy="327.79" r="1.0" fill="#e8241c"/>
<circle cx="328.87" cy="328.32" r="1.0" fill="#e8241c"/>
<polyline points="227.60,400.30 227.92,400.41 228.35,400.54 228.87,400.92 229.44,400.79 230.04,400.91 230.63,401.52 231.19,401.52 231.69,401.98" fill="none" stroke="#2d48a6" stroke-width="2.0" stroke-linejoin="round" stroke-linecap="butt"/>
<polyline points="232.67,403.19 233.12,403.82 233.56,403.90 234.01,404.54 234.47,405.19 234.96,405.39 235.41,405.67 235.87,405.44 236.34,405.66 236.82,405.27" fill="none" stroke="#2d48a6" stroke-width="2.0" stroke-linejoin="round" stroke-linecap="butt"/>
<polyline points="238.32,404.10 238.85,403.71 239.28,402.96 239.72,401.77 240.17,400.51" fill="none" stroke="#2d48a6" stroke-width="2.0" stroke-linejoin="round" stroke-linecap="butt"/>
<polyline points="240.62,399.17 241.08,397.72 241.56,395.90 242.04,394.21" fill="none" stroke="#2d48a6" stroke-width="2.0" stroke-linejoin="round" stroke-linecap="butt"/>
<polyline points="242.53,393.00 243.04,391.34 243.55,390.15 244.00,389.83 244.46,388.62 244.94,388.00" fill="none" stroke="#2d48a6" stroke-width="2.0" stroke-linejoin="round" stroke-linecap="butt"/>
<polyline points="245.93,386.09 246.43,385.99 246.93,385.03 247.42,384.25 247.91,383.21 248.38,382.72" fill="none" stroke="#2d48a6" stroke-width="2.0" stroke-linejoin="round" stroke-linecap="butt"/>
<polyline points="249.28,381.25 249.83,380.32 250.36,378.10 250.86,376.69" fill="none" stroke="#2d48a6" stroke-width="2.0" stroke-linejoin="round" stroke-linecap="butt"/>
<polyline points="251.83,375.00 252.31,373.27 252.79,371.68 253.27,369.46" fill="none" stroke="#2d48a6" stroke-width="2.0" stroke-linejoin="round" stroke-linecap="butt"/>
<polyline points="253.78,367.96 254.24,366.67 254.72,366.36 255.21,363.80" fill="none" stroke="#2d48a6" stroke-width="2.0" stroke-linejoin="round" stroke-linecap="butt"/>
<polyline points="255.70,362.40 256.19,360.99 256.68,358.98 257.15,359.03" fill="none" stroke="#2d48a6" stroke-width="2.0" stroke-linejoin="round" stroke-linecap="butt"/>
<polyline points="258.06,355.32 258.48,353.89 259.03,352.98 259.53,352.49 260.00,351.03" fill="none" stroke="#2d48a6" stroke-width="2.0" stroke-linejoin="round" stroke-linecap="butt"/>
<polyline points="260.46,349.89 260.92,350.16 261.42,348.95 261.96,348.14 262.39,347.59 262.82,346.19 263.24,345.91" fill="none" stroke="#2d48a6" stroke-width="2.0" stroke-linejoin="round" stroke-linecap="butt"/>
<polyline points="263.68,344.99 264.15,344.35 264.64,342.67 265.19,343.04 265.79,341.14 266.45,341.35 266.83,341.28 267.23,339.46" fill="none" stroke="#2d48a6" stroke-width="2.0" stroke-linejoin="round" stroke-linecap="butt"/>
<polyline points="268.49,338.65 268.93,338.33 269.39,339.30 269.86,338.52 270.34,338.84 270.84,337.18 271.34,337.07 271.86,337.18 272.39,337.22 272.94,337.17" fill="none" stroke="#2d48a6" stroke-width="2.0" stroke-linejoin="round" stroke-linecap="butt"/>
<polyline points="274.06,336.45 274.63,335.96 275.04,336.62 275.45,336.33 275.87,336.44 276.31,335.19 276.75,335.30 277.20,335.84 277.65,334.47 278.11,335.34 278.58,334.95 279.06,335.24" fill="none" stroke="#2d48a6" stroke-width="2.0" stroke-linejoin="round" stroke-linecap="butt"/>
<polyline points="280.02,333.81 280.50,334.52 280.99,334.66 281.48,333.99 281.97,334.14 282.46,333.03 282.94,334.23 283.43,332.65 283.92,334.07 284.40,332.54 284.88,332.80 285.36,333.45 285.83,332.88 286.29,333.09 286.77,333.02 287.24,333.00 287.71,332.61 288.17,331.46 288.63,331.34 289.08,331.36 289.54,332.65 289.99,332.23 290.44,331.12 290.89,332.43 291.34,331.22 291.80,331.85 292.26,330.61 292.72,332.14 293.19,330.72 293.66,331.42 294.14,331.66 294.63,331.80 295.12,330.32 295.62,330.74 296.14,331.22 296.66,330.71 297.20,329.81 297.74,330.87 298.16,330.20 298.58,330.85 299.01,330.70 299.44,329.64 299.87,329.65 300.31,330.44 300.75,330.55 301.20,330.46 301.65,329.50 302.10,329.61 302.55,329.90 303.01,329.93 303.48,329.17 303.94,328.92 304.41,328.67 304.89,328.97 305.37,329.52 305.85,329.67 306.33,328.47 306.82,328.93 307.30,328.33 307.80,329.37 308.29,328.02 308.79,328.74 309.29,327.81 309.80,327.70 310.30,328.25 310.81,328.98 311.33,327.40 311.84,328.06 312.36,327.33 312.88,328.28 313.31,328.36 313.76,327.22 314.23,327.94 314.70,328.23 315.19,327.82 315.69,327.39 316.20,328.33 316.72,327.41 317.24,327.48 317.77,327.31 318.31,327.92 318.85,326.87 319.39,326.64 319.94,326.51 320.48,327.37 321.03,326.66 321.57,327.16 322.12,326.49 322.65,327.60 323.19,326.19 323.72,326.01 324.24,326.73 324.76,326.65 325.26,326.58 325.76,326.52 326.24,327.35 326.72,325.72 327.18,326.93 327.63,326.96 328.06,327.05 328.47,326.77 328.87,325.78 329.25,327.07 329.61,326.93 329.95,325.88 330.27,326.70 330.56,326.97 330.83,325.97 331.08,325.98" fill="none" stroke="#2d48a6" stroke-width="2.0" stroke-linejoin="round" stroke-linecap="butt"/>
<polyline points="227.60,400.30 227.92,400.44 228.36,400.60 228.89,400.80 229.45,400.96 229.99,401.67 230.46,401.67 231.07,402.77 231.63,404.48 232.16,405.69 232.71,406.36 233.27,406.79 233.82,407.08 234.39,407.08 234.96,406.60 235.44,406.39 235.92,405.65 236.41,404.86 236.91,404.43 237.42,403.05 237.93,401.48 238.45,400.03 238.99,397.66 239.53,395.54 240.07,393.84 240.54,392.18 241.01,390.28 241.49,388.78 241.98,387.14 242.46,385.06 242.94,383.35 243.41,381.77 243.87,379.92 244.33,377.89 244.80,375.84 245.29,373.44 245.80,371.62 246.26,369.85 246.75,368.24 247.25,366.51 247.75,365.58 248.27,363.50 248.77,361.46 249.28,359.95 249.76,359.24 250.24,357.67 250.71,356.09 251.19,355.10 251.69,353.64 252.20,352.97 252.75,351.27 253.20,350.21 253.66,349.91 254.12,348.81 254.60,346.71 255.10,346.05 255.61,344.91 256.14,344.49 256.68,343.38 257.25,342.46 257.69,341.87 258.12,342.73 258.56,341.17 259.00,341.28 259.46,340.09 259.92,340.27 260.41,339.35 260.91,338.25 261.44,338.32 261.99,338.52 262.57,337.66 263.18,337.41 263.58,336.30 263.99,337.19 264.40,336.95 264.82,336.17 265.25,336.86 265.69,335.88 266.13,335.09 266.59,335.66 267.05,335.90 267.52,335.40 268.01,335.12 268.51,335.61 269.02,335.49 269.54,335.31 270.08,334.88 270.63,334.53 271.20,334.55 271.79,334.46 272.39,334.54 272.79,333.65 273.21,333.04 273.64,333.30 274.08,333.25 274.54,332.99 275.00,333.62 275.47,332.64 275.95,332.93 276.44,332.66 276.93,332.43 277.43,332.54 277.93,332.68 278.43,332.67 278.94,332.58 279.45,331.97 279.96,332.07 280.48,331.60 280.99,332.45 281.49,331.75 282.00,330.78 282.50,331.71 283.00,331.06 283.49,331.06 283.98,331.29 284.46,330.00 284.93,331.05 285.40,330.15 285.85,331.07 286.29,331.13 286.81,329.66 287.32,330.26 287.82,330.78 288.30,330.12 288.77,329.92 289.24,329.31 289.70,330.25 290.15,329.95 290.60,328.62 291.05,328.88 291.50,329.76 291.94,329.36 292.39,329.23 292.84,328.60 293.29,328.60 293.74,328.12 294.21,328.08 294.68,328.50 295.16,328.05 295.65,327.96 296.15,327.86 296.67,328.26 297.20,327.66 297.74,327.72 298.16,327.32 298.58,328.60 299.01,327.30 299.44,328.71 299.87,327.39 300.31,327.66 300.75,327.77 301.20,326.95 301.65,327.57 302.10,327.80 302.55,327.16 303.01,326.98 303.48,327.39 303.94,327.75 304.41,327.60 304.89,327.56 305.37,327.09 305.85,327.79 306.33,327.60 306.82,327.30 307.30,327.56 307.80,327.64 308.29,326.83 308.79,326.70 309.29,327.26 309.80,327.33 310.30,327.74 310.81,327.51 311.33,327.74 311.84,326.99 312.36,326.94 312.88,327.74 313.31,326.31 313.76,327.28 314.23,326.37 314.70,326.35 315.19,326.11 315.69,327.34 316.20,326.93 316.72,326.08 317.24,327.56 317.77,327.46 318.31,326.55 318.85,326.63 319.39,325.88 319.94,326.08 320.48,326.44 321.03,325.63 321.57,326.40 322.12,326.36 322.65,326.04 323.19,326.49 323.72,326.51 324.24,326.07 324.76,326.45 325.26,325.41 325.76,325.83 326.24,326.05 326.72,326.73 327.18,326.23 327.63,326.16 328.06,325.85 328.47,325.80 328.87,325.26 329.25,325.09 329.61,325.87 329.95,325.92 330.27,325.59 330.56,324.94 330.83,326.02 331.08,325.69" fill="none" stroke="#000" stroke-width="2.3" stroke-linejoin="round" />
<line x1="227.60" y1="303.80" x2="227.60" y2="410.10" stroke="#111" stroke-width="1.4" />
<line x1="227.00" y1="409.50" x2="333.05" y2="409.50" stroke="#111" stroke-width="1.4" />
<line x1="223.90" y1="400.30" x2="227.60" y2="400.30" stroke="#111" stroke-width="1.1" />
<text x="220.50" y="403.05" font-size="9.5" text-anchor="end" fill="#141414" textLength="5.55" lengthAdjust="spacingAndGlyphs">0</text>
<line x1="223.90" y1="381.66" x2="227.60" y2="381.66" stroke="#111" stroke-width="1.1" />
<text x="220.50" y="384.41" font-size="9.5" text-anchor="end" fill="#141414" textLength="11.10" lengthAdjust="spacingAndGlyphs">20</text>
<line x1="223.90" y1="363.02" x2="227.60" y2="363.02" stroke="#111" stroke-width="1.1" />
<text x="220.50" y="365.77" font-size="9.5" text-anchor="end" fill="#141414" textLength="11.10" lengthAdjust="spacingAndGlyphs">40</text>
<line x1="223.90" y1="344.38" x2="227.60" y2="344.38" stroke="#111" stroke-width="1.1" />
<text x="220.50" y="347.13" font-size="9.5" text-anchor="end" fill="#141414" textLength="11.10" lengthAdjust="spacingAndGlyphs">60</text>
<line x1="223.90" y1="325.74" x2="227.60" y2="325.74" stroke="#111" stroke-width="1.1" />
<text x="220.50" y="328.49" font-size="9.5" text-anchor="end" fill="#141414" textLength="11.10" lengthAdjust="spacingAndGlyphs">80</text>
<line x1="223.90" y1="307.10" x2="227.60" y2="307.10" stroke="#111" stroke-width="1.1" />
<text x="220.50" y="309.85" font-size="9.5" text-anchor="end" fill="#141414" textLength="16.65" lengthAdjust="spacingAndGlyphs">100</text>
<line x1="227.60" y1="409.50" x2="227.60" y2="413.00" stroke="#111" stroke-width="1.1" />
<text x="227.60" y="425.40" font-size="9.5" text-anchor="middle" fill="#141414" textLength="5.55" lengthAdjust="spacingAndGlyphs">0</text>
<line x1="248.05" y1="409.50" x2="248.05" y2="413.00" stroke="#111" stroke-width="1.1" />
<text x="248.05" y="425.40" font-size="9.5" text-anchor="middle" fill="#141414" textLength="5.55" lengthAdjust="spacingAndGlyphs">1</text>
<line x1="268.50" y1="409.50" x2="268.50" y2="413.00" stroke="#111" stroke-width="1.1" />
<text x="268.50" y="425.40" font-size="9.5" text-anchor="middle" fill="#141414" textLength="5.55" lengthAdjust="spacingAndGlyphs">2</text>
<line x1="288.95" y1="409.50" x2="288.95" y2="413.00" stroke="#111" stroke-width="1.1" />
<text x="288.95" y="425.40" font-size="9.5" text-anchor="middle" fill="#141414" textLength="5.55" lengthAdjust="spacingAndGlyphs">3</text>
<line x1="309.40" y1="409.50" x2="309.40" y2="413.00" stroke="#111" stroke-width="1.1" />
<text x="309.40" y="425.40" font-size="9.5" text-anchor="middle" fill="#141414" textLength="5.55" lengthAdjust="spacingAndGlyphs">4</text>
<line x1="329.85" y1="409.50" x2="329.85" y2="413.00" stroke="#111" stroke-width="1.1" />
<text x="329.85" y="425.40" font-size="9.5" text-anchor="middle" fill="#141414" textLength="5.55" lengthAdjust="spacingAndGlyphs">5</text>
<text x="253.48" y="296.90" font-size="9.5" font-weight="normal" fill="#141414" textLength="54.44" lengthAdjust="spacingAndGlyphs" >14-HpDPA<tspan font-size="7.0" dy="2.90" fill="#444" stroke="#444">n-6</tspan></text>
<text x="260.91" y="440.50" font-size="10.8" font-weight="normal" fill="#141414" textLength="39.69" lengthAdjust="spacingAndGlyphs" class="cond">Time (min)</text>
<g transform="translate(196.90,386.40) rotate(-90)"><text x="0" y="0" font-size="10.9" fill="#141414" class="cond" textLength="58.40" lengthAdjust="spacingAndGlyphs">Aggregation (%)</text></g>
<polyline points="424.67,332.85 425.26,332.86 425.84,332.87 426.43,332.89 427.01,332.90 427.60,332.92 428.19,332.94 428.77,332.96 429.36,332.98 429.94,333.01 430.53,333.04 431.11,333.07 431.70,333.10 432.28,333.13 432.87,333.17 433.46,333.21 434.04,333.26 434.63,333.31 435.21,333.36 435.80,333.42 436.38,333.48 436.97,333.54 437.55,333.62 438.14,333.70 438.72,333.78 439.31,333.88 439.90,333.98 440.48,334.09 441.07,334.21 441.65,334.33 442.24,334.47 442.82,334.62 443.41,334.79 443.99,334.96 444.58,335.15 445.17,335.36 445.75,335.58 446.34,335.82 446.92,336.08 447.51,336.35 448.09,336.65 448.68,336.97 449.26,337.32 449.85,337.68 450.44,338.08 451.02,338.50 451.61,338.95 452.19,339.43 452.78,339.94 453.36,340.49 453.95,341.06 454.53,341.68 455.12,342.32 455.71,343.01 456.29,343.73 456.88,344.48 457.46,345.27 458.05,346.10 458.63,346.96 459.22,347.86 459.80,348.79 460.39,349.75 460.97,350.74 461.56,351.76 462.15,352.80 462.73,353.86 463.32,354.94 463.90,356.04 464.49,357.14 465.07,358.26 465.66,359.37 466.24,360.49 466.83,361.60 467.42,362.71 468.00,363.80 468.59,364.87 469.17,365.93 469.76,366.96 470.34,367.97 470.93,368.95 471.51,369.90 472.10,370.81 472.69,371.70 473.27,372.55 473.86,373.36 474.44,374.14 475.03,374.88 475.61,375.59 476.20,376.26 476.78,376.89 477.37,377.49 477.95,378.06 478.54,378.59 479.13,379.09 479.71,379.56 480.30,380.00 480.88,380.41 481.47,380.80 482.05,381.15 482.64,381.49 483.22,381.80 483.81,382.09 484.40,382.36 484.98,382.61 485.57,382.84 486.15,383.06 486.74,383.26 487.32,383.44 487.91,383.62 488.49,383.77 489.08,383.92 489.67,384.05 490.25,384.18 490.84,384.30 491.42,384.40 492.01,384.50 492.59,384.59 493.18,384.67 493.76,384.75 494.35,384.82 494.94,384.89" fill="none" stroke="#6cb544" stroke-width="1.5" stroke-linejoin="round" />
<polyline points="424.67,335.46 425.26,335.47 425.84,335.49 426.43,335.50 427.01,335.52 427.60,335.54 428.19,335.56 428.77,335.58 429.36,335.60 429.94,335.63 430.53,335.66 431.11,335.69 431.70,335.72 432.28,335.75 432.87,335.79 433.46,335.83 434.04,335.87 434.63,335.92 435.21,335.97 435.80,336.02 436.38,336.08 436.97,336.14 437.55,336.20 438.14,336.27 438.72,336.35 439.31,336.43 439.90,336.52 440.48,336.61 441.07,336.71 441.65,336.82 442.24,336.94 442.82,337.06 443.41,337.20 443.99,337.34 444.58,337.50 445.17,337.66 445.75,337.84 446.34,338.03 446.92,338.23 447.51,338.45 448.09,338.68 448.68,338.93 449.26,339.19 449.85,339.48 450.44,339.78 451.02,340.10 451.61,340.44 452.19,340.81 452.78,341.20 453.36,341.62 453.95,342.06 454.53,342.52 455.12,343.02 455.71,343.55 456.29,344.11 456.88,344.69 457.46,345.32 458.05,345.97 458.63,346.67 459.22,347.39 459.80,348.16 460.39,348.96 460.97,349.80 461.56,350.67 462.15,351.59 462.73,352.54 463.32,353.53 463.90,354.56 464.49,355.62 465.07,356.72 465.66,357.86 466.24,359.02 466.83,360.21 467.42,361.44 468.00,362.68 468.59,363.95 469.17,365.24 469.76,366.55 470.34,367.87 470.93,369.20 471.51,370.53 472.10,371.87 472.69,373.21 473.27,374.54 473.86,375.87 474.44,377.18 475.03,378.48 475.61,379.76 476.20,381.01 476.78,382.25 477.37,383.45 477.95,384.63 478.54,385.78 479.13,386.89 479.71,387.97 480.30,389.02 480.88,390.03 481.47,391.00 482.05,391.93 482.64,392.82 483.22,393.68 483.81,394.50 484.40,395.28 484.98,396.02 485.57,396.73 486.15,397.40 486.74,398.04 487.32,398.64 487.91,399.22 488.49,399.76 489.08,400.27 489.67,400.75 490.25,401.20 490.84,401.63 491.42,402.03 492.01,402.41 492.59,402.76 493.18,403.09 493.76,403.40 494.35,403.70 494.94,403.97" fill="none" stroke="#1f3f80" stroke-width="1.5" stroke-linejoin="round" />
<line x1="425.95" y1="348.12" x2="425.95" y2="331.67" stroke="#1a1a1a" stroke-width="1.25" />
<line x1="422.95" y1="348.12" x2="428.95" y2="348.12" stroke="#1a1a1a" stroke-width="1.25" />
<line x1="422.95" y1="331.67" x2="428.95" y2="331.67" stroke="#1a1a1a" stroke-width="1.25" />
<line x1="436.17" y1="363.54" x2="436.17" y2="332.70" stroke="#1a1a1a" stroke-width="1.25" />
<line x1="433.17" y1="363.54" x2="439.17" y2="363.54" stroke="#1a1a1a" stroke-width="1.25" />
<line x1="433.17" y1="332.70" x2="439.17" y2="332.70" stroke="#1a1a1a" stroke-width="1.25" />
<line x1="443.83" y1="350.18" x2="443.83" y2="332.70" stroke="#1a1a1a" stroke-width="1.25" />
<line x1="440.83" y1="350.18" x2="446.83" y2="350.18" stroke="#1a1a1a" stroke-width="1.25" />
<line x1="440.83" y1="332.70" x2="446.83" y2="332.70" stroke="#1a1a1a" stroke-width="1.25" />
<line x1="451.50" y1="351.20" x2="451.50" y2="334.76" stroke="#1a1a1a" stroke-width="1.25" />
<line x1="448.50" y1="351.20" x2="454.50" y2="351.20" stroke="#1a1a1a" stroke-width="1.25" />
<line x1="448.50" y1="334.76" x2="454.50" y2="334.76" stroke="#1a1a1a" stroke-width="1.25" />
<line x1="461.72" y1="366.62" x2="461.72" y2="348.12" stroke="#1a1a1a" stroke-width="1.25" />
<line x1="458.72" y1="366.62" x2="464.72" y2="366.62" stroke="#1a1a1a" stroke-width="1.25" />
<line x1="458.72" y1="348.12" x2="464.72" y2="348.12" stroke="#1a1a1a" stroke-width="1.25" />
<line x1="469.38" y1="375.88" x2="469.38" y2="353.26" stroke="#1a1a1a" stroke-width="1.25" />
<line x1="466.38" y1="375.88" x2="472.38" y2="375.88" stroke="#1a1a1a" stroke-width="1.25" />
<line x1="466.38" y1="353.26" x2="472.38" y2="353.26" stroke="#1a1a1a" stroke-width="1.25" />
<line x1="477.05" y1="393.35" x2="477.05" y2="377.93" stroke="#1a1a1a" stroke-width="1.25" />
<line x1="474.05" y1="393.35" x2="480.05" y2="393.35" stroke="#1a1a1a" stroke-width="1.25" />
<line x1="474.05" y1="377.93" x2="480.05" y2="377.93" stroke="#1a1a1a" stroke-width="1.25" />
<line x1="487.27" y1="402.60" x2="487.27" y2="397.46" stroke="#1a1a1a" stroke-width="1.25" />
<line x1="484.27" y1="402.60" x2="490.27" y2="402.60" stroke="#1a1a1a" stroke-width="1.25" />
<line x1="484.27" y1="397.46" x2="490.27" y2="397.46" stroke="#1a1a1a" stroke-width="1.25" />
<line x1="494.94" y1="404.66" x2="494.94" y2="401.58" stroke="#1a1a1a" stroke-width="1.25" />
<line x1="491.94" y1="404.66" x2="497.94" y2="404.66" stroke="#1a1a1a" stroke-width="1.25" />
<line x1="491.94" y1="401.58" x2="497.94" y2="401.58" stroke="#1a1a1a" stroke-width="1.25" />
<line x1="425.95" y1="336.81" x2="425.95" y2="329.62" stroke="#1a1a1a" stroke-width="1.25" />
<line x1="422.95" y1="336.81" x2="428.95" y2="336.81" stroke="#1a1a1a" stroke-width="1.25" />
<line x1="422.95" y1="329.62" x2="428.95" y2="329.62" stroke="#1a1a1a" stroke-width="1.25" />
<line x1="436.17" y1="339.90" x2="436.17" y2="327.56" stroke="#1a1a1a" stroke-width="1.25" />
<line x1="433.17" y1="339.90" x2="439.17" y2="339.90" stroke="#1a1a1a" stroke-width="1.25" />
<line x1="433.17" y1="327.56" x2="439.17" y2="327.56" stroke="#1a1a1a" stroke-width="1.25" />
<line x1="443.83" y1="346.06" x2="443.83" y2="330.64" stroke="#1a1a1a" stroke-width="1.25" />
<line x1="440.83" y1="346.06" x2="446.83" y2="346.06" stroke="#1a1a1a" stroke-width="1.25" />
<line x1="440.83" y1="330.64" x2="446.83" y2="330.64" stroke="#1a1a1a" stroke-width="1.25" />
<line x1="451.50" y1="349.15" x2="451.50" y2="331.67" stroke="#1a1a1a" stroke-width="1.25" />
<line x1="448.50" y1="349.15" x2="454.50" y2="349.15" stroke="#1a1a1a" stroke-width="1.25" />
<line x1="448.50" y1="331.67" x2="454.50" y2="331.67" stroke="#1a1a1a" stroke-width="1.25" />
<line x1="461.72" y1="369.71" x2="461.72" y2="352.23" stroke="#1a1a1a" stroke-width="1.25" />
<line x1="458.72" y1="369.71" x2="464.72" y2="369.71" stroke="#1a1a1a" stroke-width="1.25" />
<line x1="458.72" y1="352.23" x2="464.72" y2="352.23" stroke="#1a1a1a" stroke-width="1.25" />
<line x1="469.38" y1="369.71" x2="469.38" y2="350.18" stroke="#1a1a1a" stroke-width="1.25" />
<line x1="466.38" y1="369.71" x2="472.38" y2="369.71" stroke="#1a1a1a" stroke-width="1.25" />
<line x1="466.38" y1="350.18" x2="472.38" y2="350.18" stroke="#1a1a1a" stroke-width="1.25" />
<line x1="477.05" y1="382.04" x2="477.05" y2="363.54" stroke="#1a1a1a" stroke-width="1.25" />
<line x1="474.05" y1="382.04" x2="480.05" y2="382.04" stroke="#1a1a1a" stroke-width="1.25" />
<line x1="474.05" y1="363.54" x2="480.05" y2="363.54" stroke="#1a1a1a" stroke-width="1.25" />
<line x1="487.27" y1="394.38" x2="487.27" y2="373.82" stroke="#1a1a1a" stroke-width="1.25" />
<line x1="484.27" y1="394.38" x2="490.27" y2="394.38" stroke="#1a1a1a" stroke-width="1.25" />
<line x1="484.27" y1="373.82" x2="490.27" y2="373.82" stroke="#1a1a1a" stroke-width="1.25" />
<line x1="494.94" y1="394.38" x2="494.94" y2="373.82" stroke="#1a1a1a" stroke-width="1.25" />
<line x1="491.94" y1="394.38" x2="497.94" y2="394.38" stroke="#1a1a1a" stroke-width="1.25" />
<line x1="491.94" y1="373.82" x2="497.94" y2="373.82" stroke="#1a1a1a" stroke-width="1.25" />
<circle cx="425.95" cy="333.73" r="2.7" fill="#fff" stroke="#6cb544" stroke-width="1.0"/>
<circle cx="436.17" cy="334.76" r="2.7" fill="#fff" stroke="#6cb544" stroke-width="1.0"/>
<circle cx="443.83" cy="335.78" r="2.7" fill="#fff" stroke="#6cb544" stroke-width="1.0"/>
<circle cx="451.50" cy="339.18" r="2.7" fill="#fff" stroke="#6cb544" stroke-width="1.0"/>
<circle cx="461.72" cy="359.74" r="2.7" fill="#fff" stroke="#6cb544" stroke-width="1.0"/>
<circle cx="469.38" cy="359.74" r="2.7" fill="#fff" stroke="#6cb544" stroke-width="1.0"/>
<circle cx="477.05" cy="371.76" r="2.7" fill="#fff" stroke="#6cb544" stroke-width="1.0"/>
<circle cx="487.27" cy="384.10" r="2.7" fill="#fff" stroke="#6cb544" stroke-width="1.0"/>
<circle cx="494.94" cy="384.10" r="2.7" fill="#fff" stroke="#6cb544" stroke-width="1.0"/>
<circle cx="425.95" cy="339.90" r="3.0" fill="#1f3f80"/>
<circle cx="436.17" cy="348.12" r="3.0" fill="#1f3f80"/>
<circle cx="443.83" cy="341.13" r="3.0" fill="#1f3f80"/>
<circle cx="451.50" cy="342.98" r="3.0" fill="#1f3f80"/>
<circle cx="461.72" cy="356.76" r="3.0" fill="#1f3f80"/>
<circle cx="469.38" cy="362.51" r="3.0" fill="#1f3f80"/>
<circle cx="477.05" cy="385.13" r="3.0" fill="#1f3f80"/>
<circle cx="487.27" cy="400.14" r="3.0" fill="#1f3f80"/>
<circle cx="494.94" cy="403.12" r="3.0" fill="#1f3f80"/>
<line x1="400.00" y1="303.80" x2="400.00" y2="410.40" stroke="#111" stroke-width="1.4" />
<line x1="399.40" y1="409.80" x2="506.60" y2="409.80" stroke="#111" stroke-width="1.4" />
<line x1="396.70" y1="409.80" x2="400.00" y2="409.80" stroke="#111" stroke-width="1.1" />
<text x="393.75" y="412.55" font-size="9.5" text-anchor="end" fill="#141414" textLength="5.55" lengthAdjust="spacingAndGlyphs">0</text>
<line x1="396.70" y1="389.24" x2="400.00" y2="389.24" stroke="#111" stroke-width="1.1" />
<text x="393.75" y="391.99" font-size="9.5" text-anchor="end" fill="#141414" textLength="11.10" lengthAdjust="spacingAndGlyphs">20</text>
<line x1="396.70" y1="368.68" x2="400.00" y2="368.68" stroke="#111" stroke-width="1.1" />
<text x="393.75" y="371.43" font-size="9.5" text-anchor="end" fill="#141414" textLength="11.10" lengthAdjust="spacingAndGlyphs">40</text>
<line x1="396.70" y1="348.12" x2="400.00" y2="348.12" stroke="#111" stroke-width="1.1" />
<text x="393.75" y="350.87" font-size="9.5" text-anchor="end" fill="#141414" textLength="11.10" lengthAdjust="spacingAndGlyphs">60</text>
<line x1="396.70" y1="327.56" x2="400.00" y2="327.56" stroke="#111" stroke-width="1.1" />
<text x="393.75" y="330.31" font-size="9.5" text-anchor="end" fill="#141414" textLength="11.10" lengthAdjust="spacingAndGlyphs">80</text>
<line x1="396.70" y1="307.00" x2="400.00" y2="307.00" stroke="#111" stroke-width="1.1" />
<text x="393.75" y="309.75" font-size="9.5" text-anchor="end" fill="#141414" textLength="16.65" lengthAdjust="spacingAndGlyphs">100</text>
<line x1="400.40" y1="409.80" x2="400.40" y2="412.60" stroke="#111" stroke-width="1.1" />
<line x1="408.09" y1="409.80" x2="408.09" y2="411.50" stroke="#333" stroke-width="0.8" />
<line x1="412.59" y1="409.80" x2="412.59" y2="411.50" stroke="#333" stroke-width="0.8" />
<line x1="415.78" y1="409.80" x2="415.78" y2="411.50" stroke="#333" stroke-width="0.8" />
<line x1="418.26" y1="409.80" x2="418.26" y2="411.50" stroke="#333" stroke-width="0.8" />
<line x1="420.28" y1="409.80" x2="420.28" y2="411.50" stroke="#333" stroke-width="0.8" />
<line x1="421.99" y1="409.80" x2="421.99" y2="411.50" stroke="#333" stroke-width="0.8" />
<line x1="423.47" y1="409.80" x2="423.47" y2="411.50" stroke="#333" stroke-width="0.8" />
<line x1="424.78" y1="409.80" x2="424.78" y2="411.50" stroke="#333" stroke-width="0.8" />
<text x="392.38" y="425.20" font-size="9.4" font-weight="normal" fill="#141414" textLength="10.43" lengthAdjust="spacingAndGlyphs" >10</text>
<text x="402.36" y="421.40" font-size="6.2" font-weight="normal" fill="#141414" textLength="6.68" lengthAdjust="spacingAndGlyphs" >-9</text>
<line x1="425.95" y1="409.80" x2="425.95" y2="412.60" stroke="#111" stroke-width="1.1" />
<line x1="433.64" y1="409.80" x2="433.64" y2="411.50" stroke="#333" stroke-width="0.8" />
<line x1="438.14" y1="409.80" x2="438.14" y2="411.50" stroke="#333" stroke-width="0.8" />
<line x1="441.33" y1="409.80" x2="441.33" y2="411.50" stroke="#333" stroke-width="0.8" />
<line x1="443.81" y1="409.80" x2="443.81" y2="411.50" stroke="#333" stroke-width="0.8" />
<line x1="445.83" y1="409.80" x2="445.83" y2="411.50" stroke="#333" stroke-width="0.8" />
<line x1="447.54" y1="409.80" x2="447.54" y2="411.50" stroke="#333" stroke-width="0.8" />
<line x1="449.02" y1="409.80" x2="449.02" y2="411.50" stroke="#333" stroke-width="0.8" />
<line x1="450.33" y1="409.80" x2="450.33" y2="411.50" stroke="#333" stroke-width="0.8" />
<text x="417.93" y="425.20" font-size="9.4" font-weight="normal" fill="#141414" textLength="10.43" lengthAdjust="spacingAndGlyphs" >10</text>
<text x="427.91" y="421.40" font-size="6.2" font-weight="normal" fill="#141414" textLength="6.68" lengthAdjust="spacingAndGlyphs" >-8</text>
<line x1="451.50" y1="409.80" x2="451.50" y2="412.60" stroke="#111" stroke-width="1.1" />
<line x1="459.19" y1="409.80" x2="459.19" y2="411.50" stroke="#333" stroke-width="0.8" />
<line x1="463.69" y1="409.80" x2="463.69" y2="411.50" stroke="#333" stroke-width="0.8" />
<line x1="466.88" y1="409.80" x2="466.88" y2="411.50" stroke="#333" stroke-width="0.8" />
<line x1="469.36" y1="409.80" x2="469.36" y2="411.50" stroke="#333" stroke-width="0.8" />
<line x1="471.38" y1="409.80" x2="471.38" y2="411.50" stroke="#333" stroke-width="0.8" />
<line x1="473.09" y1="409.80" x2="473.09" y2="411.50" stroke="#333" stroke-width="0.8" />
<line x1="474.57" y1="409.80" x2="474.57" y2="411.50" stroke="#333" stroke-width="0.8" />
<line x1="475.88" y1="409.80" x2="475.88" y2="411.50" stroke="#333" stroke-width="0.8" />
<text x="443.48" y="425.20" font-size="9.4" font-weight="normal" fill="#141414" textLength="10.43" lengthAdjust="spacingAndGlyphs" >10</text>
<text x="453.46" y="421.40" font-size="6.2" font-weight="normal" fill="#141414" textLength="6.68" lengthAdjust="spacingAndGlyphs" >-7</text>
<line x1="477.05" y1="409.80" x2="477.05" y2="412.60" stroke="#111" stroke-width="1.1" />
<line x1="484.74" y1="409.80" x2="484.74" y2="411.50" stroke="#333" stroke-width="0.8" />
<line x1="489.24" y1="409.80" x2="489.24" y2="411.50" stroke="#333" stroke-width="0.8" />
<line x1="492.43" y1="409.80" x2="492.43" y2="411.50" stroke="#333" stroke-width="0.8" />
<line x1="494.91" y1="409.80" x2="494.91" y2="411.50" stroke="#333" stroke-width="0.8" />
<line x1="496.93" y1="409.80" x2="496.93" y2="411.50" stroke="#333" stroke-width="0.8" />
<line x1="498.64" y1="409.80" x2="498.64" y2="411.50" stroke="#333" stroke-width="0.8" />
<line x1="500.12" y1="409.80" x2="500.12" y2="411.50" stroke="#333" stroke-width="0.8" />
<line x1="501.43" y1="409.80" x2="501.43" y2="411.50" stroke="#333" stroke-width="0.8" />
<text x="469.03" y="425.20" font-size="9.4" font-weight="normal" fill="#141414" textLength="10.43" lengthAdjust="spacingAndGlyphs" >10</text>
<text x="479.01" y="421.40" font-size="6.2" font-weight="normal" fill="#141414" textLength="6.68" lengthAdjust="spacingAndGlyphs" >-6</text>
<line x1="502.60" y1="409.80" x2="502.60" y2="412.60" stroke="#111" stroke-width="1.1" />
<text x="494.58" y="425.20" font-size="9.4" font-weight="normal" fill="#141414" textLength="10.43" lengthAdjust="spacingAndGlyphs" >10</text>
<text x="504.56" y="421.40" font-size="6.2" font-weight="normal" fill="#141414" textLength="6.68" lengthAdjust="spacingAndGlyphs" >-5</text>
<text x="434.08" y="297.00" font-size="9.5" font-weight="normal" fill="#141414" textLength="38.55" lengthAdjust="spacingAndGlyphs" >Thrombin</text>
<line x1="402.00" y1="384.20" x2="410.80" y2="384.20" stroke="#1f3f80" stroke-width="1.3" />
<ellipse cx="406.40" cy="384.20" rx="3.0" ry="2.5" fill="#1f3f80"/>
<text x="414.18" y="386.80" font-size="9.4" font-weight="normal" fill="#141414" textLength="51.53" lengthAdjust="spacingAndGlyphs" >11-HpDPA<tspan font-size="6.6" dy="3.00" fill="#444" stroke="#444">n-6</tspan></text>
<line x1="402.00" y1="398.60" x2="410.80" y2="398.60" stroke="#6cb544" stroke-width="1.3" />
<ellipse cx="406.40" cy="398.60" rx="2.6" ry="2.2" fill="#fff" stroke="#6cb544" stroke-width="1.2"/>
<line x1="402.00" y1="398.60" x2="410.80" y2="398.60" stroke="#6cb544" stroke-width="1.2" />
<text x="414.18" y="401.20" font-size="9.4" font-weight="normal" fill="#141414" textLength="51.53" lengthAdjust="spacingAndGlyphs" >14-HpDPA<tspan font-size="6.6" dy="3.00" fill="#444" stroke="#444">n-6</tspan></text>
<text x="417.81" y="441.00" font-size="10.8" font-weight="normal" fill="#141414" textLength="71.39" lengthAdjust="spacingAndGlyphs" class="cond">Log [fatty acid] (M)</text>
<g transform="translate(370.10,395.65) rotate(-90)"><text x="0" y="0" font-size="10.9" fill="#141414" class="cond" textLength="77.30" lengthAdjust="spacingAndGlyphs">Final aggregation (%)</text></g>
<line x1="54.00" y1="460.30" x2="72.80" y2="460.30" stroke="#000" stroke-width="2.3" />
<text x="76.69" y="463.00" font-size="9.2" font-weight="normal" fill="#141414" textLength="27.91" lengthAdjust="spacingAndGlyphs" >DMSO</text>
<line x1="115.40" y1="460.30" x2="134.80" y2="460.30" stroke="#2d48a6" stroke-width="2.0" />
<text x="138.59" y="463.00" font-size="9.2" font-weight="normal" fill="#141414" textLength="30.61" lengthAdjust="spacingAndGlyphs" >100 nM</text>
<circle cx="179.70" cy="460.30" r="1.15" fill="#e8241c"/>
<circle cx="189.20" cy="460.30" r="1.15" fill="#e8241c"/>
<circle cx="199.40" cy="460.30" r="1.15" fill="#e8241c"/>
<text x="202.39" y="463.00" font-size="9.2" font-weight="normal" fill="#141414" textLength="31.41" lengthAdjust="spacingAndGlyphs" >500 nM</text>
<line x1="244.40" y1="460.30" x2="263.50" y2="460.30" stroke="#d5d5d5" stroke-width="2.0" />
<text x="267.09" y="463.00" font-size="9.2" font-weight="normal" fill="#141414" textLength="21.11" lengthAdjust="spacingAndGlyphs" >1 μM</text>
<line x1="298.80" y1="460.30" x2="318.10" y2="460.30" stroke="#3d8a2e" stroke-width="2.0" />
<text x="321.09" y="463.00" font-size="9.2" font-weight="normal" fill="#141414" textLength="21.41" lengthAdjust="spacingAndGlyphs" >5 μM</text>
<text x="205.83" y="504.40" font-size="10.4" font-weight="normal" fill="#141414" textLength="148.04" lengthAdjust="spacingAndGlyphs" class="sm">Collagen (EC<tspan font-size="7.8" dy="2.5">80</tspan><tspan dy="-2.5">: .125 - .5 μM)</tspan></text>
<polyline points="61.90,628.80 62.17,629.02 62.49,629.30 62.87,629.62 63.28,629.92 63.74,630.44 64.22,630.83 64.74,631.14 65.27,631.63 65.82,632.16 66.38,632.70 66.94,633.00 67.50,633.49 68.05,633.89 68.59,634.26 69.11,634.65 69.61,635.07 70.08,635.41 70.59,635.68 71.10,635.93 71.61,636.22 72.12,636.55 72.62,636.81 73.11,636.96 73.61,637.18 74.09,637.42 74.57,637.46 75.04,637.66 75.50,637.86 75.95,637.84 76.39,637.77 76.82,637.82 77.24,637.64 77.78,637.57 78.29,637.17 78.78,636.61 79.25,636.17 79.70,635.58 80.14,635.08 80.58,634.34 81.01,633.64 81.45,633.04 81.89,632.23 82.35,631.59 82.82,630.75 83.29,630.15 83.77,629.43 84.25,628.74 84.73,627.91 85.21,626.86 85.68,626.30 86.14,625.51 86.60,624.72 87.04,623.85 87.46,623.05 88.02,622.30 88.53,621.45 89.03,621.09 89.51,620.45 89.99,619.42 90.48,619.01 91.00,618.15 91.55,617.66 91.98,617.24 92.41,616.65 92.85,616.19 93.29,615.18 93.75,614.80 94.21,614.38 94.69,613.80 95.17,613.33 95.66,613.04 96.16,612.14 96.66,611.92 97.06,611.42 97.41,611.44 97.72,611.09 98.01,611.07 98.30,610.98 98.61,610.30 98.95,610.17 99.35,610.32 99.82,609.85 100.39,609.77 101.06,609.94 101.86,609.67 102.80,609.37 103.11,609.61 103.43,609.33 103.77,609.71 104.12,609.61 104.48,609.41 104.86,609.68 105.25,609.62 105.65,609.29 106.06,609.51 106.48,609.33 106.91,609.64 107.34,609.68 107.79,609.58 108.25,609.67 108.71,609.24 109.18,609.63 109.66,609.48 110.14,609.74 110.63,609.51 111.13,609.60 111.63,609.60 112.13,609.80 112.64,609.78 113.15,609.39 113.66,609.67 114.18,609.74 114.69,609.78 115.21,609.74 115.73,609.77 116.25,609.90 116.77,609.55 117.29,609.74 117.80,609.85 118.32,609.55 118.83,609.89 119.34,609.80 119.84,609.48 120.35,609.88 120.84,609.70 121.34,609.48 121.82,609.49 122.31,609.84 122.78,609.73 123.25,609.51 123.71,609.69 124.18,609.35 124.64,609.75 125.10,609.32 125.57,609.55 126.03,609.69 126.49,609.54 126.95,609.71 127.41,609.36 127.87,609.59 128.33,609.21 128.79,609.36 129.25,609.46 129.71,609.50 130.17,609.28 130.63,609.47 131.09,609.08 131.56,609.47 132.02,609.22 132.48,609.18 132.94,609.30 133.40,609.00 133.86,609.18 134.32,609.00 134.78,609.02 135.25,609.14 135.71,609.06 136.17,609.20 136.64,609.12 137.10,608.72 137.57,608.98 138.03,608.76 138.50,609.04 138.97,608.76 139.44,608.84 139.91,608.74 140.38,608.82 140.85,608.92 141.32,608.75 141.79,608.77 142.27,608.80 142.75,608.44 143.22,608.66 143.70,608.56 144.16,608.26 144.64,608.30 145.12,608.22 145.62,608.20 146.12,608.58 146.63,608.47 147.14,608.58 147.67,608.19 148.20,608.17 148.73,608.31 149.27,608.25 149.81,608.08 150.36,608.03 150.91,608.25 151.45,607.88 152.00,608.13 152.55,607.94 153.10,608.16 153.65,608.17 154.20,607.69 154.74,607.76 155.28,607.74 155.82,608.09 156.35,608.06 156.87,607.96 157.39,607.91 157.90,607.83 158.41,607.75 158.91,607.92 159.39,607.74 159.87,607.53 160.34,607.76 160.79,607.36 161.24,607.49 161.67,607.38 162.09,607.62 162.49,607.49 162.88,607.33 163.25,607.50 163.61,607.67 163.95,607.19 164.27,607.20 164.58,607.46 164.86,607.58 165.13,607.11 165.38,607.23" fill="none" stroke="#d5d5d5" stroke-width="1.9" stroke-linejoin="round" />
<polyline points="61.90,628.80 62.17,628.90 62.50,629.01 62.87,629.14 63.30,629.39 63.76,629.49 64.25,629.68 64.77,629.68 65.30,630.02 65.85,630.03 66.41,630.29 66.96,630.68 67.51,630.76 68.05,631.09 68.57,631.26 69.06,631.52 69.54,631.97 70.02,632.36 70.51,632.52 70.99,633.06 71.48,633.35 71.97,633.84 72.46,634.27 72.94,634.69 73.43,635.18 73.90,635.64 74.38,636.15 74.85,636.36 75.31,636.77 75.77,637.05 76.22,637.20 76.72,637.66 77.20,637.71 77.68,638.10 78.14,638.07 78.60,638.17 79.06,638.45 79.51,638.44 79.96,638.35 80.42,638.51 80.89,638.56 81.36,638.68 81.85,638.74 82.35,638.59 82.80,638.51 83.25,638.54 83.72,638.39 84.19,638.36 84.66,637.94 85.14,637.81 85.62,637.87 86.11,637.70 86.60,637.36 87.08,637.21 87.57,636.72 88.06,636.87 88.55,636.71 89.03,636.14 89.51,636.42 89.99,635.94 90.47,635.89 90.96,635.33 91.44,635.28 91.93,634.89 92.42,635.08 92.91,634.46 93.39,634.26 93.88,634.11 94.35,633.64 94.83,633.35 95.30,633.65 95.76,633.30 96.22,633.03 96.66,632.95 97.13,632.84 97.52,632.46 97.86,632.32 98.16,631.75 98.45,631.75 98.74,631.82 99.07,631.49 99.44,631.21 99.89,631.12 100.43,631.10 101.08,631.02 101.86,630.91 102.80,630.02 103.11,630.16 103.43,630.61 103.77,630.10 104.12,629.86 104.48,630.13 104.86,630.43 105.25,630.10 105.65,630.10 106.06,630.24 106.48,629.94 106.91,630.30 107.34,629.58 107.79,629.75 108.25,629.73 108.71,629.46 109.18,629.63 109.66,629.90 110.14,629.87 110.63,629.91 111.13,629.96 111.63,629.37 112.13,629.28 112.64,629.65 113.15,629.70 113.66,629.33 114.18,629.14 114.69,629.05 115.21,629.58 115.73,629.09 116.25,629.02 116.77,629.05 117.29,629.33 117.80,629.40 118.32,628.89 118.83,629.24 119.34,629.17 119.84,629.00 120.35,629.10 120.84,628.72 121.34,629.13 121.82,629.24 122.31,628.82 122.78,628.74 123.25,628.56 123.71,628.61 124.18,628.43 124.64,628.37 125.10,628.67 125.57,628.63 126.03,628.86 126.49,628.72 126.95,628.48 127.41,628.82 127.87,628.33 128.33,628.69 128.79,628.45 129.25,628.03 129.71,628.65 130.17,628.66 130.63,628.33 131.09,628.48 131.56,628.06 132.02,628.56 132.48,627.91 132.94,627.86 133.40,627.88 133.86,628.12 134.32,628.20 134.78,627.89 135.25,627.96 135.71,628.00 136.17,628.03 136.64,627.93 137.10,627.73 137.57,627.58 138.03,627.49 138.50,628.01 138.97,627.88 139.44,627.74 139.91,627.61 140.38,627.74 140.85,627.82 141.32,627.87 141.79,627.66 142.27,627.53 142.75,627.11 143.22,627.13 143.70,627.12 144.16,627.01 144.64,626.99 145.12,627.21 145.62,627.03 146.12,627.55 146.63,627.06 147.14,627.07 147.67,627.26 148.20,627.02 148.73,626.70 149.27,627.01 149.81,626.85 150.36,627.07 150.91,626.99 151.45,626.55 152.00,627.15 152.55,626.99 153.10,626.58 153.65,626.71 154.20,626.94 154.74,626.47 155.28,626.65 155.82,626.45 156.35,626.54 156.87,626.41 157.39,626.35 157.90,626.44 158.41,626.61 158.91,626.53 159.39,625.96 159.87,626.18 160.34,626.47 160.79,625.88 161.24,626.30 161.67,626.39 162.09,626.03 162.49,626.21 162.88,626.00 163.25,625.92 163.61,626.14 163.95,625.86 164.27,626.18 164.58,625.86 164.86,625.78 165.13,626.14 165.38,625.88" fill="none" stroke="#3d8a2e" stroke-width="2.0" stroke-linejoin="round" />
<polyline points="61.90,628.80 62.18,628.86 62.54,628.92 62.96,629.21 63.43,629.09 63.94,628.95 64.48,629.21 65.04,629.24 65.60,629.35 66.15,629.86" fill="none" stroke="#2d48a6" stroke-width="2.0" stroke-linejoin="round" stroke-linecap="butt"/>
<polyline points="67.63,630.60 68.19,630.70 68.73,631.54 69.25,632.36 69.77,632.69 70.26,633.67 70.75,634.30" fill="none" stroke="#2d48a6" stroke-width="2.0" stroke-linejoin="round" stroke-linecap="butt"/>
<polyline points="71.68,635.58 72.12,636.42 72.66,636.79 73.16,637.11 73.62,637.61 74.08,637.50 74.55,637.77 75.05,637.65 75.60,637.20 76.02,637.07" fill="none" stroke="#2d48a6" stroke-width="2.0" stroke-linejoin="round" stroke-linecap="butt"/>
<polyline points="77.40,635.48 77.89,635.07 78.38,634.21 78.87,633.55 79.36,633.31 79.84,632.17" fill="none" stroke="#2d48a6" stroke-width="2.0" stroke-linejoin="round" stroke-linecap="butt"/>
<polyline points="80.81,630.57 81.31,629.77 81.81,628.77 82.31,628.44 82.80,627.25 83.30,625.86" fill="none" stroke="#2d48a6" stroke-width="2.0" stroke-linejoin="round" stroke-linecap="butt"/>
<polyline points="83.79,624.51 84.30,623.48 84.80,622.82 85.27,620.89" fill="none" stroke="#2d48a6" stroke-width="2.0" stroke-linejoin="round" stroke-linecap="butt"/>
<polyline points="85.73,619.94 86.21,617.86 86.68,615.90 87.16,614.97" fill="none" stroke="#2d48a6" stroke-width="2.0" stroke-linejoin="round" stroke-linecap="butt"/>
<polyline points="87.63,612.27 88.11,610.82 88.58,609.65 89.04,608.10" fill="none" stroke="#2d48a6" stroke-width="2.0" stroke-linejoin="round" stroke-linecap="butt"/>
<polyline points="89.51,606.24 90.02,604.08 90.52,602.79 91.01,601.83" fill="none" stroke="#2d48a6" stroke-width="2.0" stroke-linejoin="round" stroke-linecap="butt"/>
<polyline points="91.51,600.40 92.00,598.76 92.50,596.27 93.00,595.79" fill="none" stroke="#2d48a6" stroke-width="2.0" stroke-linejoin="round" stroke-linecap="butt"/>
<polyline points="93.50,593.93 94.01,593.12 94.46,591.53 94.90,591.08 95.34,590.60 95.78,588.74 96.22,588.52" fill="none" stroke="#2d48a6" stroke-width="2.0" stroke-linejoin="round" stroke-linecap="butt"/>
<polyline points="97.14,586.78 97.64,585.93 98.16,586.70 98.71,585.56 99.12,585.38 99.55,584.41 99.98,583.41 100.42,583.09" fill="none" stroke="#2d48a6" stroke-width="2.0" stroke-linejoin="round" stroke-linecap="butt"/>
<polyline points="101.33,583.19 101.80,581.84 102.29,581.65 102.78,581.70 103.29,581.19 103.81,581.30 104.35,579.91 104.90,580.23 105.46,579.15" fill="none" stroke="#2d48a6" stroke-width="2.0" stroke-linejoin="round" stroke-linecap="butt"/>
<polyline points="107.11,579.13 107.53,577.87 107.95,578.08 108.37,578.66 108.80,578.24 109.25,577.73 109.70,577.34 110.17,576.96 110.65,577.03 111.16,576.87" fill="none" stroke="#2d48a6" stroke-width="2.0" stroke-linejoin="round" stroke-linecap="butt"/>
<polyline points="112.79,576.30 113.39,576.58 114.01,575.74 114.66,574.78 115.03,576.09 115.40,575.85 115.77,574.97 116.13,575.47 116.50,575.38 116.86,574.96 117.23,575.23 117.59,574.68 117.97,574.66 118.34,573.94 118.72,573.81 119.11,575.16 119.50,574.30 119.90,573.91 120.31,573.69 120.73,573.76 121.15,573.90 121.59,573.83 122.04,574.17 122.51,574.23 122.98,573.40 123.47,573.22 123.98,573.06 124.50,573.39 125.04,573.90 125.60,573.16 126.18,573.14 126.77,573.43 127.39,573.19 128.03,573.57 128.69,573.22 129.38,573.39 130.08,573.87 130.82,573.41 131.17,573.41 131.53,572.40 131.90,573.14 132.29,573.29 132.68,573.46 133.09,573.46 133.51,573.27 133.94,573.58 134.38,573.76 134.83,572.45 135.29,573.06 135.75,573.06 136.23,572.86 136.71,573.25 137.20,573.44 137.70,573.58 138.20,573.22 138.71,573.20 139.23,572.56 139.75,572.82 140.28,572.23 140.81,573.12 141.35,572.24 141.89,572.74 142.44,573.48 142.98,573.33 143.53,572.72 144.09,572.10 144.64,573.04 145.20,572.41 145.76,572.92 146.31,572.26 146.87,573.45 147.43,572.82 147.99,572.20 148.55,573.13 149.11,573.15 149.66,573.50 150.22,573.28 150.77,573.12 151.32,572.47 151.86,573.19 152.40,572.92 152.94,573.21 153.48,572.61 154.01,572.21 154.53,572.54 155.05,573.21 155.57,572.40 156.07,572.06 156.57,572.60 157.07,573.38 157.55,572.28 158.03,572.18 158.50,572.98 158.97,573.28 159.42,573.20 159.86,572.68 160.30,572.17 160.72,572.52 161.13,572.10 161.54,573.16 161.93,572.99 162.31,572.35 162.68,572.50 163.03,572.86 163.37,572.45 163.70,572.96 164.02,573.38 164.32,572.84 164.61,573.39 164.88,572.52 165.14,572.95 165.38,572.71" fill="none" stroke="#2d48a6" stroke-width="2.0" stroke-linejoin="round" stroke-linecap="butt"/>
<circle cx="63.10" cy="628.74" r="1.0" fill="#e8241c"/>
<circle cx="66.40" cy="628.92" r="1.0" fill="#e8241c"/>
<circle cx="68.91" cy="631.86" r="1.0" fill="#e8241c"/>
<circle cx="70.87" cy="634.42" r="1.0" fill="#e8241c"/>
<circle cx="72.86" cy="636.88" r="1.0" fill="#e8241c"/>
<circle cx="75.34" cy="637.36" r="1.0" fill="#e8241c"/>
<circle cx="77.82" cy="634.36" r="1.0" fill="#e8241c"/>
<circle cx="78.82" cy="631.05" r="1.0" fill="#e8241c"/>
<circle cx="79.81" cy="628.66" r="1.0" fill="#e8241c"/>
<circle cx="80.80" cy="624.97" r="1.0" fill="#e8241c"/>
<circle cx="81.79" cy="622.97" r="1.0" fill="#e8241c"/>
<circle cx="82.79" cy="618.93" r="1.0" fill="#e8241c"/>
<circle cx="83.78" cy="615.61" r="1.0" fill="#e8241c"/>
<circle cx="84.74" cy="611.46" r="1.0" fill="#e8241c"/>
<circle cx="85.22" cy="608.33" r="1.0" fill="#e8241c"/>
<circle cx="85.70" cy="606.88" r="1.0" fill="#e8241c"/>
<circle cx="86.71" cy="602.06" r="1.0" fill="#e8241c"/>
<circle cx="87.26" cy="599.96" r="1.0" fill="#e8241c"/>
<circle cx="88.19" cy="595.89" r="1.0" fill="#e8241c"/>
<circle cx="89.18" cy="592.04" r="1.0" fill="#e8241c"/>
<circle cx="90.20" cy="590.43" r="1.0" fill="#e8241c"/>
<circle cx="91.24" cy="586.38" r="1.0" fill="#e8241c"/>
<circle cx="92.22" cy="584.82" r="1.0" fill="#e8241c"/>
<circle cx="93.63" cy="580.87" r="1.0" fill="#e8241c"/>
<circle cx="94.58" cy="577.94" r="1.0" fill="#e8241c"/>
<circle cx="96.00" cy="574.12" r="1.0" fill="#e8241c"/>
<circle cx="97.38" cy="571.31" r="1.0" fill="#e8241c"/>
<circle cx="99.65" cy="569.39" r="1.0" fill="#e8241c"/>
<circle cx="101.71" cy="567.60" r="1.0" fill="#e8241c"/>
<circle cx="104.74" cy="565.37" r="1.0" fill="#e8241c"/>
<circle cx="107.30" cy="564.15" r="1.0" fill="#e8241c"/>
<circle cx="110.16" cy="561.67" r="1.0" fill="#e8241c"/>
<circle cx="113.36" cy="560.41" r="1.0" fill="#e8241c"/>
<circle cx="116.37" cy="560.89" r="1.0" fill="#e8241c"/>
<circle cx="119.80" cy="558.49" r="1.0" fill="#e8241c"/>
<circle cx="123.24" cy="558.10" r="1.0" fill="#e8241c"/>
<circle cx="126.28" cy="558.93" r="1.0" fill="#e8241c"/>
<circle cx="129.44" cy="557.75" r="1.0" fill="#e8241c"/>
<circle cx="132.85" cy="559.14" r="1.0" fill="#e8241c"/>
<circle cx="136.39" cy="558.15" r="1.0" fill="#e8241c"/>
<circle cx="139.44" cy="558.71" r="1.0" fill="#e8241c"/>
<circle cx="142.89" cy="557.03" r="1.0" fill="#e8241c"/>
<circle cx="146.11" cy="557.74" r="1.0" fill="#e8241c"/>
<circle cx="149.69" cy="557.63" r="1.0" fill="#e8241c"/>
<circle cx="152.47" cy="557.29" r="1.0" fill="#e8241c"/>
<circle cx="156.31" cy="558.00" r="1.0" fill="#e8241c"/>
<circle cx="159.37" cy="558.42" r="1.0" fill="#e8241c"/>
<circle cx="162.48" cy="557.44" r="1.0" fill="#e8241c"/>
<polyline points="61.90,629.27 62.37,630.15 63.13,631.48 63.62,632.47 64.19,633.92 64.79,635.13 65.38,635.93 65.91,637.05 66.42,637.39 66.98,637.71 67.63,638.12 68.06,638.00 68.53,638.17 69.03,638.05 69.55,637.90 70.07,637.70 70.60,637.67 71.10,637.24 71.60,636.98 72.10,636.83 72.59,636.26 73.09,636.00 73.59,635.12 74.08,634.68 74.58,633.73 75.08,632.87 75.57,631.80 76.07,630.72 76.57,629.43 77.06,627.58 77.56,626.28 78.06,624.67 78.55,622.93 79.05,620.84 79.56,619.22 80.06,617.20 80.55,614.61 81.05,612.81 81.53,610.64 82.00,608.50 82.44,606.47 82.87,604.53 83.31,603.33 83.77,601.06 84.26,598.65 84.80,596.69 85.21,596.00 85.64,594.53 86.08,592.97 86.53,591.67 87.00,589.93 87.48,587.96 87.98,586.89 88.48,585.63 88.99,584.81 89.51,583.22 89.94,581.47 90.38,580.97 90.81,580.45 91.26,579.59 91.71,578.34 92.17,577.63 92.64,577.80 93.12,576.29 93.62,576.06 94.14,575.14 94.67,574.89 95.23,574.02 95.64,573.59 96.05,573.06 96.46,573.15 96.88,572.43 97.31,571.44 97.74,571.77 98.18,571.17 98.63,569.95 99.09,570.21 99.57,569.73 100.05,569.46 100.54,568.20 101.05,568.93 101.56,567.75 102.10,567.06 102.65,567.69 103.21,567.02 103.62,566.23 104.03,566.26 104.46,566.40 104.89,566.66 105.33,565.84 105.77,565.74 106.22,565.01 106.68,565.43 107.14,565.05 107.61,564.49 108.08,564.05 108.56,564.55 109.05,564.31 109.54,563.84 110.03,563.14 110.53,564.06 111.04,562.72 111.54,562.94 112.06,563.28 112.57,562.68 113.09,563.03 113.61,563.26 114.13,562.08 114.66,562.50 115.10,562.17 115.54,562.10 115.98,561.38 116.42,561.49 116.86,562.48 117.30,561.53 117.75,561.63 118.20,561.54 118.65,560.88 119.10,561.43 119.56,561.26 120.01,560.55 120.48,561.14 120.94,560.99 121.42,560.88 121.89,560.34 122.37,560.50 122.85,560.32 123.34,560.76 123.84,561.23 124.34,560.21 124.84,560.33 125.36,559.95 125.87,559.88 126.40,560.80 126.93,560.58 127.47,560.74 128.01,559.57 128.57,560.58 128.98,560.56 129.41,559.52 129.84,559.76 130.27,560.48 130.71,559.50 131.15,559.42 131.60,559.72 132.05,560.32 132.51,559.33 132.97,559.71 133.43,559.42 133.90,558.77 134.37,559.00 134.84,558.89 135.32,559.94 135.80,559.63 136.28,559.32 136.76,560.06 137.25,558.56 137.73,559.60 138.22,559.59 138.71,559.49 139.20,559.55 139.69,558.62 140.18,559.05 140.67,559.09 141.16,559.20 141.65,559.73 142.14,559.33 142.63,558.47 143.12,558.55 143.61,558.45 144.10,559.32 144.58,559.39 145.06,559.60 145.54,558.85 146.02,559.08 146.50,558.93 146.97,558.88 147.45,558.72 147.94,559.04 148.44,558.37 148.95,559.26 149.46,558.18 149.99,558.72 150.52,559.47 151.06,559.07 151.60,558.74 152.14,558.92 152.69,558.68 153.24,559.04 153.79,559.12 154.34,558.34 154.89,559.09 155.44,558.47 155.98,558.33 156.52,558.65 157.06,558.86 157.59,558.14 158.11,558.88 158.63,558.24 159.14,559.47 159.64,558.91 160.13,558.61 160.61,559.50 161.07,558.28 161.52,559.47 161.96,558.69 162.39,559.32 162.79,558.21 163.19,558.76 163.56,558.40 163.91,558.86 164.25,558.60 164.56,558.60 164.86,559.17 165.13,559.29 165.38,558.36" fill="none" stroke="#000" stroke-width="2.3" stroke-linejoin="round" />
<line x1="61.90" y1="532.00" x2="61.90" y2="638.60" stroke="#111" stroke-width="1.4" />
<line x1="61.30" y1="638.00" x2="167.35" y2="638.00" stroke="#111" stroke-width="1.4" />
<line x1="58.20" y1="628.80" x2="61.90" y2="628.80" stroke="#111" stroke-width="1.1" />
<text x="54.80" y="631.55" font-size="9.5" text-anchor="end" fill="#141414" textLength="5.55" lengthAdjust="spacingAndGlyphs">0</text>
<line x1="58.20" y1="610.10" x2="61.90" y2="610.10" stroke="#111" stroke-width="1.1" />
<text x="54.80" y="612.85" font-size="9.5" text-anchor="end" fill="#141414" textLength="11.10" lengthAdjust="spacingAndGlyphs">20</text>
<line x1="58.20" y1="591.40" x2="61.90" y2="591.40" stroke="#111" stroke-width="1.1" />
<text x="54.80" y="594.15" font-size="9.5" text-anchor="end" fill="#141414" textLength="11.10" lengthAdjust="spacingAndGlyphs">40</text>
<line x1="58.20" y1="572.70" x2="61.90" y2="572.70" stroke="#111" stroke-width="1.1" />
<text x="54.80" y="575.45" font-size="9.5" text-anchor="end" fill="#141414" textLength="11.10" lengthAdjust="spacingAndGlyphs">60</text>
<line x1="58.20" y1="554.00" x2="61.90" y2="554.00" stroke="#111" stroke-width="1.1" />
<text x="54.80" y="556.75" font-size="9.5" text-anchor="end" fill="#141414" textLength="11.10" lengthAdjust="spacingAndGlyphs">80</text>
<line x1="58.20" y1="535.30" x2="61.90" y2="535.30" stroke="#111" stroke-width="1.1" />
<text x="54.80" y="538.05" font-size="9.5" text-anchor="end" fill="#141414" textLength="16.65" lengthAdjust="spacingAndGlyphs">100</text>
<line x1="61.90" y1="638.00" x2="61.90" y2="641.50" stroke="#111" stroke-width="1.1" />
<text x="61.90" y="653.80" font-size="9.5" text-anchor="middle" fill="#141414" textLength="5.55" lengthAdjust="spacingAndGlyphs">0</text>
<line x1="82.35" y1="638.00" x2="82.35" y2="641.50" stroke="#111" stroke-width="1.1" />
<text x="82.35" y="653.80" font-size="9.5" text-anchor="middle" fill="#141414" textLength="5.55" lengthAdjust="spacingAndGlyphs">1</text>
<line x1="102.80" y1="638.00" x2="102.80" y2="641.50" stroke="#111" stroke-width="1.1" />
<text x="102.80" y="653.80" font-size="9.5" text-anchor="middle" fill="#141414" textLength="5.55" lengthAdjust="spacingAndGlyphs">2</text>
<line x1="123.25" y1="638.00" x2="123.25" y2="641.50" stroke="#111" stroke-width="1.1" />
<text x="123.25" y="653.80" font-size="9.5" text-anchor="middle" fill="#141414" textLength="5.55" lengthAdjust="spacingAndGlyphs">3</text>
<line x1="143.70" y1="638.00" x2="143.70" y2="641.50" stroke="#111" stroke-width="1.1" />
<text x="143.70" y="653.80" font-size="9.5" text-anchor="middle" fill="#141414" textLength="5.55" lengthAdjust="spacingAndGlyphs">4</text>
<line x1="164.15" y1="638.00" x2="164.15" y2="641.50" stroke="#111" stroke-width="1.1" />
<text x="164.15" y="653.80" font-size="9.5" text-anchor="middle" fill="#141414" textLength="5.55" lengthAdjust="spacingAndGlyphs">5</text>
<text x="88.38" y="525.90" font-size="9.5" font-weight="normal" fill="#141414" textLength="54.24" lengthAdjust="spacingAndGlyphs" >11-HpDPA<tspan font-size="7.0" dy="2.90" fill="#444" stroke="#444">n-6</tspan></text>
<text x="95.21" y="669.60" font-size="10.8" font-weight="normal" fill="#141414" textLength="39.69" lengthAdjust="spacingAndGlyphs" class="cond">Time (min)</text>
<g transform="translate(31.20,614.75) rotate(-90)"><text x="0" y="0" font-size="10.9" fill="#141414" class="cond" textLength="58.40" lengthAdjust="spacingAndGlyphs">Aggregation (%)</text></g>
<polyline points="226.90,628.80 227.16,629.00 227.47,629.24 227.81,629.51 228.20,629.89 228.62,630.08 229.06,630.59 229.54,631.00 230.04,631.41 230.55,631.69 231.09,632.09 231.63,632.64 232.19,633.03 232.75,633.56 233.32,633.87 233.88,634.34 234.44,634.86 235.00,635.28 235.54,635.53 236.06,636.02 236.57,636.19 237.06,636.59 237.52,636.87 237.95,637.02 238.35,637.25 238.99,637.43 239.58,637.67 240.14,637.62 240.67,637.77 241.17,637.66 241.65,637.73 242.11,637.50 242.56,637.33 243.01,637.30 243.45,637.20 243.90,636.93 244.35,636.66 244.82,636.56 245.31,636.27 245.80,636.18 246.30,635.83 246.79,635.47 247.29,635.27 247.79,634.87 248.28,634.73 248.78,634.13 249.28,634.02 249.77,633.35 250.27,632.94 250.77,632.57 251.26,632.35 251.76,632.07 252.26,631.67 252.76,631.10 253.27,630.81 253.79,630.17 254.32,630.13 254.84,629.48 255.37,628.83 255.89,628.51 256.40,628.09 256.91,627.89 257.40,627.45 257.88,626.97 258.35,626.24 258.79,625.92 259.21,625.96 259.77,625.15 260.20,625.30 260.55,624.69 260.87,624.23 261.21,624.36 261.62,623.82 262.14,623.79 262.82,623.93 263.71,623.56 264.03,623.43 264.36,623.48 264.70,623.14 265.05,623.39 265.41,622.99 265.79,623.20 266.17,623.27 266.56,622.94 266.97,623.14 267.39,622.83 267.81,622.64 268.25,622.70 268.70,622.72 269.16,622.91 269.63,622.58 270.12,622.77 270.61,622.41 271.12,622.64 271.63,622.34 272.16,622.42 272.70,622.36 273.25,622.14 273.81,622.37 274.38,622.32 274.96,621.84 275.56,622.13 276.17,621.79 276.78,621.72 277.41,621.89 277.79,622.05 278.17,622.05 278.56,621.58 278.95,621.98 279.35,621.74 279.75,621.68 280.16,621.89 280.57,621.67 280.99,621.81 281.41,621.57 281.83,621.56 282.26,621.61 282.69,621.68 283.13,621.54 283.57,621.63 284.02,621.64 284.47,621.55 284.92,621.17 285.38,621.35 285.84,621.11 286.30,621.57 286.77,621.03 287.24,621.26 287.72,621.06 288.20,621.16 288.68,621.06 289.16,621.29 289.65,620.98 290.14,621.28 290.64,621.19 291.13,621.30 291.63,621.07 292.14,620.97 292.64,621.07 293.15,620.70 293.66,621.13 294.18,620.82 294.69,620.98 295.21,620.75 295.73,620.61 296.26,620.62 296.78,620.96 297.31,620.82 297.84,620.59 298.37,620.34 298.91,620.84 299.44,620.48 299.98,620.41 300.52,620.30 300.94,620.54 301.37,620.25 301.81,620.42 302.26,620.13 302.71,620.61 303.18,620.06 303.65,620.32 304.13,620.29 304.62,620.44 305.12,620.32 305.62,620.01 306.13,620.00 306.64,620.26 307.16,620.12 307.68,620.20 308.21,620.13 308.74,620.08 309.28,619.98 309.81,619.59 310.35,619.54 310.90,619.61 311.44,619.75 311.99,619.70 312.53,619.51 313.08,619.40 313.63,619.45 314.18,619.47 314.72,619.68 315.27,619.41 315.81,619.24 316.35,619.24 316.89,619.59 317.43,619.20 317.96,619.37 318.49,619.44 319.02,618.95 319.54,619.08 320.05,619.00 320.57,619.31 321.07,618.89 321.57,618.79 322.06,618.77 322.55,618.83 323.03,618.75 323.50,618.73 323.96,618.82 324.41,618.87 324.85,618.62 325.29,618.62 325.71,618.54 326.13,618.83 326.53,618.43 326.92,618.64 327.30,618.39 327.67,618.83 328.03,618.32 328.37,618.40 328.70,618.68 329.02,618.33 329.32,618.65 329.61,618.64 329.88,618.48 330.14,618.59 330.38,618.43" fill="none" stroke="#d5d5d5" stroke-width="1.9" stroke-linejoin="round" />
<polyline points="226.90,628.15 227.19,628.28 227.54,628.44 227.95,628.51 228.42,628.77 228.92,628.98 229.46,629.30 230.02,629.44 230.59,629.71 231.18,630.01 231.75,630.24 232.32,630.57 232.86,630.99 233.38,631.39 233.85,631.57 234.37,631.94 234.88,632.55 235.37,633.01 235.85,633.50 236.33,634.09 236.79,634.87 237.26,635.31 237.72,635.96 238.18,636.41 238.64,636.65 239.11,637.09 239.58,637.28 240.05,637.47 240.49,637.57 240.93,637.61 241.36,637.52 241.79,637.29 242.22,637.21 242.67,637.14 243.14,637.02 243.63,636.78 244.15,636.45 244.71,636.36 245.31,636.13 245.70,635.98 246.12,636.15 246.54,635.82 246.98,635.98 247.43,635.54 247.88,635.71 248.35,635.55 248.83,635.11 249.32,635.27 249.81,635.22 250.31,634.75 250.82,634.76 251.33,634.48 251.85,634.63 252.38,634.44 252.90,634.04 253.44,634.18 253.97,633.75 254.51,634.15 254.93,633.63 255.34,633.98 255.73,633.64 256.13,633.91 256.51,633.69 256.90,633.04 257.28,633.30 257.67,632.94 258.05,633.26 258.45,633.09 258.85,633.18 259.26,632.74 259.69,632.41 260.12,632.57 260.58,632.58 261.05,632.07 261.54,632.00 262.06,632.07 262.60,632.41 263.17,631.90 263.77,631.94 264.40,631.46 265.06,631.81 265.75,631.48 266.11,631.46 266.48,631.60 266.85,631.44 267.23,631.28 267.63,631.06 268.03,631.31 268.43,631.36 268.85,630.85 269.27,631.49 269.70,630.86 270.14,630.92 270.59,630.96 271.04,630.99 271.49,630.71 271.95,630.56 272.42,630.63 272.89,630.56 273.37,631.04 273.85,630.77 274.34,630.86 274.83,630.20 275.32,630.20 275.82,630.70 276.32,630.32 276.82,630.28 277.32,630.62 277.83,630.31 278.34,630.00 278.85,630.03 279.36,630.25 279.87,629.84 280.38,630.14 280.89,629.91 281.40,629.95 281.92,629.49 282.43,629.69 282.94,629.53 283.44,629.58 283.95,629.76 284.46,629.28 284.96,629.42 285.46,629.39 285.96,629.66 286.45,629.71 286.94,629.36 287.43,629.13 287.91,629.12 288.39,629.42 288.86,629.54 289.34,629.22 289.81,628.92 290.29,629.42 290.76,628.96 291.24,629.35 291.72,629.22 292.21,629.38 292.69,629.17 293.17,629.08 293.66,628.62 294.14,628.60 294.63,629.15 295.12,629.04 295.60,628.54 296.09,629.08 296.58,628.97 297.07,628.86 297.55,629.08 298.04,628.95 298.53,628.83 299.01,628.82 299.50,628.37 299.99,628.87 300.47,628.90 300.95,628.35 301.44,628.68 301.92,628.37 302.40,628.50 302.88,628.38 303.35,628.70 303.83,628.81 304.30,628.34 304.77,628.53 305.24,628.45 305.71,628.34 306.18,628.26 306.64,628.60 307.10,628.51 307.56,628.08 308.02,628.35 308.47,628.51 308.92,628.23 309.36,628.48 309.81,628.07 310.25,628.60 310.68,627.98 311.12,628.15 311.55,628.28 311.97,627.82 312.51,628.28 313.05,628.26 313.59,628.35 314.14,627.95 314.69,627.76 315.25,627.77 315.80,627.92 316.36,627.58 316.92,628.05 317.47,627.86 318.03,627.56 318.59,627.26 319.14,627.46 319.69,627.37 320.23,627.26 320.77,627.49 321.31,627.03 321.84,627.13 322.36,627.38 322.88,627.29 323.38,626.93 323.88,627.22 324.37,627.30 324.85,626.73 325.32,626.94 325.78,626.90 326.23,626.75 326.66,626.53 327.08,627.06 327.48,626.87 327.87,627.03 328.25,626.74 328.61,626.63 328.95,626.34 329.27,626.44 329.58,626.48 329.86,626.58 330.13,626.43 330.38,626.63" fill="none" stroke="#3d8a2e" stroke-width="2.0" stroke-linejoin="round" />
<circle cx="227.97" cy="629.38" r="1.0" fill="#e8241c"/>
<circle cx="230.68" cy="631.35" r="1.0" fill="#e8241c"/>
<circle cx="232.93" cy="633.00" r="1.0" fill="#e8241c"/>
<circle cx="235.53" cy="635.47" r="1.0" fill="#e8241c"/>
<circle cx="237.86" cy="637.86" r="1.0" fill="#e8241c"/>
<circle cx="240.70" cy="637.24" r="1.0" fill="#e8241c"/>
<circle cx="243.06" cy="635.33" r="1.0" fill="#e8241c"/>
<circle cx="245.06" cy="632.15" r="1.0" fill="#e8241c"/>
<circle cx="246.54" cy="629.74" r="1.0" fill="#e8241c"/>
<circle cx="248.02" cy="625.36" r="1.0" fill="#e8241c"/>
<circle cx="248.96" cy="622.35" r="1.0" fill="#e8241c"/>
<circle cx="249.91" cy="619.62" r="1.0" fill="#e8241c"/>
<circle cx="250.86" cy="616.03" r="1.0" fill="#e8241c"/>
<circle cx="251.80" cy="612.33" r="1.0" fill="#e8241c"/>
<circle cx="252.77" cy="608.57" r="1.0" fill="#e8241c"/>
<circle cx="253.27" cy="607.40" r="1.0" fill="#e8241c"/>
<circle cx="254.26" cy="602.83" r="1.0" fill="#e8241c"/>
<circle cx="255.25" cy="600.16" r="1.0" fill="#e8241c"/>
<circle cx="255.75" cy="597.40" r="1.0" fill="#e8241c"/>
<circle cx="256.76" cy="594.67" r="1.0" fill="#e8241c"/>
<circle cx="258.09" cy="591.16" r="1.0" fill="#e8241c"/>
<circle cx="259.89" cy="587.87" r="1.0" fill="#e8241c"/>
<circle cx="261.46" cy="584.87" r="1.0" fill="#e8241c"/>
<circle cx="263.17" cy="583.19" r="1.0" fill="#e8241c"/>
<circle cx="265.04" cy="581.07" r="1.0" fill="#e8241c"/>
<circle cx="267.65" cy="578.08" r="1.0" fill="#e8241c"/>
<circle cx="270.28" cy="575.80" r="1.0" fill="#e8241c"/>
<circle cx="272.92" cy="574.19" r="1.0" fill="#e8241c"/>
<circle cx="276.14" cy="572.71" r="1.0" fill="#e8241c"/>
<circle cx="279.22" cy="572.10" r="1.0" fill="#e8241c"/>
<circle cx="282.54" cy="572.00" r="1.0" fill="#e8241c"/>
<circle cx="285.57" cy="571.10" r="1.0" fill="#e8241c"/>
<circle cx="289.39" cy="571.86" r="1.0" fill="#e8241c"/>
<circle cx="292.80" cy="571.52" r="1.0" fill="#e8241c"/>
<circle cx="295.79" cy="570.68" r="1.0" fill="#e8241c"/>
<circle cx="298.85" cy="570.80" r="1.0" fill="#e8241c"/>
<circle cx="302.31" cy="570.26" r="1.0" fill="#e8241c"/>
<circle cx="305.49" cy="570.80" r="1.0" fill="#e8241c"/>
<circle cx="308.79" cy="571.30" r="1.0" fill="#e8241c"/>
<circle cx="312.15" cy="570.45" r="1.0" fill="#e8241c"/>
<circle cx="315.47" cy="570.64" r="1.0" fill="#e8241c"/>
<circle cx="318.69" cy="570.26" r="1.0" fill="#e8241c"/>
<circle cx="322.22" cy="569.76" r="1.0" fill="#e8241c"/>
<circle cx="325.38" cy="571.14" r="1.0" fill="#e8241c"/>
<circle cx="328.40" cy="570.82" r="1.0" fill="#e8241c"/>
<polyline points="226.90,628.80 227.18,629.05 227.54,629.36 227.96,629.59 228.43,630.35 228.94,630.34 229.48,630.95 230.04,631.71" fill="none" stroke="#2d48a6" stroke-width="2.0" stroke-linejoin="round" stroke-linecap="butt"/>
<polyline points="231.68,632.99 232.17,633.65 232.63,633.70 233.18,634.19 233.70,634.76 234.21,635.84 234.70,635.99 235.18,636.70" fill="none" stroke="#2d48a6" stroke-width="2.0" stroke-linejoin="round" stroke-linecap="butt"/>
<polyline points="236.14,637.62 236.62,637.85 237.12,638.01 237.59,637.92 238.07,638.22 238.56,638.08 239.05,637.60 239.54,637.44 240.03,637.03 240.50,636.82" fill="none" stroke="#2d48a6" stroke-width="2.0" stroke-linejoin="round" stroke-linecap="butt"/>
<polyline points="241.83,634.89 242.39,634.04 242.91,633.31 243.40,632.48 243.88,630.99" fill="none" stroke="#2d48a6" stroke-width="2.0" stroke-linejoin="round" stroke-linecap="butt"/>
<polyline points="244.35,630.02 244.82,628.49 245.31,627.22 245.80,624.90" fill="none" stroke="#2d48a6" stroke-width="2.0" stroke-linejoin="round" stroke-linecap="butt"/>
<polyline points="246.30,623.42 246.79,621.64 247.29,619.83" fill="none" stroke="#2d48a6" stroke-width="2.0" stroke-linejoin="round" stroke-linecap="butt"/>
<polyline points="247.79,617.17 248.28,614.91 248.78,612.76" fill="none" stroke="#2d48a6" stroke-width="2.0" stroke-linejoin="round" stroke-linecap="butt"/>
<polyline points="249.28,611.27 249.77,608.66 250.27,606.33" fill="none" stroke="#2d48a6" stroke-width="2.0" stroke-linejoin="round" stroke-linecap="butt"/>
<polyline points="250.77,603.42 251.26,601.73 251.76,598.97" fill="none" stroke="#2d48a6" stroke-width="2.0" stroke-linejoin="round" stroke-linecap="butt"/>
<polyline points="252.26,596.45 252.75,594.75 253.22,593.84" fill="none" stroke="#2d48a6" stroke-width="2.0" stroke-linejoin="round" stroke-linecap="butt"/>
<polyline points="253.69,592.02 254.17,590.32 254.67,588.00 255.18,586.65" fill="none" stroke="#2d48a6" stroke-width="2.0" stroke-linejoin="round" stroke-linecap="butt"/>
<polyline points="256.18,584.49 256.64,583.63 257.11,582.47 257.60,581.61 258.09,580.46 258.61,580.03" fill="none" stroke="#2d48a6" stroke-width="2.0" stroke-linejoin="round" stroke-linecap="butt"/>
<polyline points="259.67,578.47 260.23,577.99 260.65,577.76 261.05,578.41 261.44,577.09 261.84,576.52 262.24,576.86 262.66,575.92 263.11,576.70 263.58,575.32" fill="none" stroke="#2d48a6" stroke-width="2.0" stroke-linejoin="round" stroke-linecap="butt"/>
<polyline points="265.28,575.65 265.96,575.34 266.32,575.14 266.70,575.06 267.08,575.29 267.48,574.65 267.89,573.74 268.31,574.12 268.74,573.59 269.18,573.74 269.63,573.52 270.09,573.18 270.56,573.44 271.03,574.06 271.52,574.00 272.02,573.66 272.52,574.15 273.03,573.75 273.55,572.68 274.08,572.54 274.62,573.34 275.16,572.60 275.72,572.52 276.27,572.27 276.84,572.33 277.41,572.65 277.81,573.24 278.21,572.11 278.59,572.83 278.97,572.32 279.35,572.66 279.72,572.36 280.08,571.67 280.45,572.84 280.82,572.24 281.19,572.02 281.56,572.15 281.93,571.51 282.31,572.27 282.70,571.48 283.09,571.78 283.49,571.33 283.90,572.61 284.33,572.39 284.76,572.25 285.21,571.29 285.67,572.60 286.15,572.20 286.64,571.49 287.16,571.06 287.69,572.25 288.25,571.83 288.82,571.44 289.42,571.41 290.04,571.30 290.69,571.27 291.37,572.01 292.07,571.98 292.80,572.30 293.57,571.29 293.91,572.01 294.26,571.92 294.63,570.86 295.00,571.34 295.39,571.41 295.79,571.31 296.20,571.39 296.62,571.24 297.05,571.82 297.49,572.18 297.93,572.17 298.39,572.24 298.85,571.72 299.33,572.05 299.81,572.09 300.29,571.52 300.79,570.80 301.29,571.22 301.80,571.84 302.31,571.10 302.83,571.98 303.35,572.09 303.88,571.79 304.41,571.63 304.95,571.21 305.49,571.58 306.03,571.15 306.58,572.10 307.13,570.85 307.68,571.73 308.24,571.00 308.79,572.20 309.35,571.01 309.91,571.91 310.47,570.97 311.03,571.05 311.59,571.25 312.15,571.84 312.70,572.24 313.26,571.97 313.82,570.90 314.37,572.02 314.92,571.28 315.47,571.39 316.02,571.28 316.56,572.00 317.10,572.06 317.63,572.13 318.16,570.81 318.69,571.71 319.21,571.30 319.73,571.43 320.24,571.95 320.74,572.19 321.24,572.27 321.73,571.02 322.22,572.10 322.69,570.86 323.16,571.76 323.62,571.22 324.08,572.10 324.52,571.13 324.95,571.93 325.38,571.76 325.79,571.53 326.20,572.15 326.59,571.94 326.98,571.13 327.35,571.89 327.71,571.75 328.06,571.18 328.40,571.99 328.72,572.03 329.03,572.00 329.33,571.75 329.61,571.78 329.88,571.37 330.14,571.62 330.38,571.02" fill="none" stroke="#2d48a6" stroke-width="2.0" stroke-linejoin="round" stroke-linecap="butt"/>
<polyline points="226.90,628.80 227.28,629.74 227.81,631.11 228.45,632.84 229.15,633.75 229.57,634.25 230.02,635.19 230.50,635.86 231.00,636.14 231.52,636.79 232.06,636.99 232.63,637.18 233.09,637.77 233.58,637.95 234.09,637.91 234.61,638.22 235.14,638.29 235.66,638.22 236.17,638.42 236.66,638.41 237.12,638.14 237.68,637.91 238.19,637.43 238.69,637.39 239.17,637.31 239.64,636.73 240.11,635.77 240.60,635.03 241.10,633.80 241.59,632.53 242.09,631.22 242.59,630.18 243.08,627.98 243.58,626.52 244.08,624.88 244.57,622.92 245.07,620.12 245.57,618.28 246.06,615.96 246.56,613.35 247.06,610.34 247.55,608.55 248.05,606.15 248.55,604.77 249.04,602.35 249.54,600.53 250.04,598.74 250.53,596.32 251.03,594.84 251.52,593.36 251.99,590.50 252.47,589.45 252.95,588.20 253.44,586.84 253.96,584.37 254.51,583.06 254.95,582.64 255.39,580.84 255.84,579.32 256.30,578.56 256.78,578.00 257.29,576.57 257.82,575.42 258.39,574.43 259.01,574.42 259.42,572.79 259.85,572.04 260.29,571.91 260.75,571.25 261.22,571.63 261.70,570.31 262.19,571.11 262.69,570.64 263.21,569.64 263.74,568.75 264.28,569.77 264.83,569.19 265.39,569.15 265.96,568.13 266.38,568.38 266.81,568.05 267.24,566.88 267.67,566.93 268.11,566.11 268.55,566.80 268.99,566.12 269.44,567.03 269.91,565.26 270.37,566.27 270.85,565.67 271.34,565.42 271.85,564.51 272.36,565.10 272.89,564.09 273.43,564.55 273.99,565.07 274.57,563.88 275.16,564.79 275.55,563.35 275.91,564.17 276.26,564.46 276.59,563.13 276.92,564.12 277.23,563.89 277.54,563.91 277.85,563.28 278.16,564.29 278.47,563.62 278.79,563.90 279.12,562.70 279.46,564.03 279.81,562.93 280.18,563.46 280.57,563.06 280.99,562.81 281.43,562.50 281.91,563.41 282.41,563.18 282.95,563.32 283.53,561.86 284.14,563.17 284.80,563.14 285.51,562.45 286.27,562.31 287.08,561.75 287.94,563.11 288.86,562.77 289.18,562.87 289.51,562.15 289.85,562.37 290.20,562.43 290.56,561.61 290.93,561.98 291.32,561.64 291.71,561.47 292.12,562.62 292.53,561.48 292.95,562.37 293.38,562.96 293.82,561.50 294.27,562.86 294.73,563.00 295.19,562.53 295.67,562.53 296.15,561.38 296.63,561.54 297.13,562.29 297.63,562.10 298.13,561.56 298.64,561.63 299.16,561.88 299.68,562.11 300.21,562.78 300.74,562.56 301.28,561.86 301.82,561.98 302.36,561.61 302.91,561.45 303.46,561.34 304.01,562.63 304.57,562.83 305.12,561.44 305.68,561.99 306.24,562.64 306.81,561.78 307.37,562.52 307.94,562.55 308.50,562.33 309.07,562.07 309.63,561.81 310.19,562.82 310.76,561.70 311.32,561.90 311.88,562.15 312.44,561.82 313.00,561.60 313.56,562.93 314.11,562.15 314.66,561.81 315.21,561.76 315.75,561.86 316.29,562.65 316.83,561.34 317.36,561.63 317.89,562.57 318.41,562.23 318.93,561.35 319.44,562.61 319.95,562.27 320.45,561.34 320.94,561.45 321.43,562.57 321.91,561.73 322.38,562.36 322.85,561.85 323.31,561.68 323.76,562.76 324.20,562.60 324.63,562.61 325.06,562.53 325.47,562.92 325.88,562.75 326.27,562.29 326.66,562.27 327.03,562.85 327.39,562.00 327.75,561.39 328.09,562.01 328.42,562.38 328.74,561.79 329.04,562.24 329.34,562.68 329.62,562.17 329.88,562.95 330.14,561.84 330.38,562.71" fill="none" stroke="#000" stroke-width="2.3" stroke-linejoin="round" />
<line x1="226.90" y1="532.00" x2="226.90" y2="638.60" stroke="#111" stroke-width="1.4" />
<line x1="226.30" y1="638.00" x2="332.35" y2="638.00" stroke="#111" stroke-width="1.4" />
<line x1="223.20" y1="628.80" x2="226.90" y2="628.80" stroke="#111" stroke-width="1.1" />
<text x="219.80" y="631.55" font-size="9.5" text-anchor="end" fill="#141414" textLength="5.55" lengthAdjust="spacingAndGlyphs">0</text>
<line x1="223.20" y1="610.10" x2="226.90" y2="610.10" stroke="#111" stroke-width="1.1" />
<text x="219.80" y="612.85" font-size="9.5" text-anchor="end" fill="#141414" textLength="11.10" lengthAdjust="spacingAndGlyphs">20</text>
<line x1="223.20" y1="591.40" x2="226.90" y2="591.40" stroke="#111" stroke-width="1.1" />
<text x="219.80" y="594.15" font-size="9.5" text-anchor="end" fill="#141414" textLength="11.10" lengthAdjust="spacingAndGlyphs">40</text>
<line x1="223.20" y1="572.70" x2="226.90" y2="572.70" stroke="#111" stroke-width="1.1" />
<text x="219.80" y="575.45" font-size="9.5" text-anchor="end" fill="#141414" textLength="11.10" lengthAdjust="spacingAndGlyphs">60</text>
<line x1="223.20" y1="554.00" x2="226.90" y2="554.00" stroke="#111" stroke-width="1.1" />
<text x="219.80" y="556.75" font-size="9.5" text-anchor="end" fill="#141414" textLength="11.10" lengthAdjust="spacingAndGlyphs">80</text>
<line x1="223.20" y1="535.30" x2="226.90" y2="535.30" stroke="#111" stroke-width="1.1" />
<text x="219.80" y="538.05" font-size="9.5" text-anchor="end" fill="#141414" textLength="16.65" lengthAdjust="spacingAndGlyphs">100</text>
<line x1="226.90" y1="638.00" x2="226.90" y2="641.50" stroke="#111" stroke-width="1.1" />
<text x="226.90" y="653.80" font-size="9.5" text-anchor="middle" fill="#141414" textLength="5.55" lengthAdjust="spacingAndGlyphs">0</text>
<line x1="247.35" y1="638.00" x2="247.35" y2="641.50" stroke="#111" stroke-width="1.1" />
<text x="247.35" y="653.80" font-size="9.5" text-anchor="middle" fill="#141414" textLength="5.55" lengthAdjust="spacingAndGlyphs">1</text>
<line x1="267.80" y1="638.00" x2="267.80" y2="641.50" stroke="#111" stroke-width="1.1" />
<text x="267.80" y="653.80" font-size="9.5" text-anchor="middle" fill="#141414" textLength="5.55" lengthAdjust="spacingAndGlyphs">2</text>
<line x1="288.25" y1="638.00" x2="288.25" y2="641.50" stroke="#111" stroke-width="1.1" />
<text x="288.25" y="653.80" font-size="9.5" text-anchor="middle" fill="#141414" textLength="5.55" lengthAdjust="spacingAndGlyphs">3</text>
<line x1="308.70" y1="638.00" x2="308.70" y2="641.50" stroke="#111" stroke-width="1.1" />
<text x="308.70" y="653.80" font-size="9.5" text-anchor="middle" fill="#141414" textLength="5.55" lengthAdjust="spacingAndGlyphs">4</text>
<line x1="329.15" y1="638.00" x2="329.15" y2="641.50" stroke="#111" stroke-width="1.1" />
<text x="329.15" y="653.80" font-size="9.5" text-anchor="middle" fill="#141414" textLength="5.55" lengthAdjust="spacingAndGlyphs">5</text>
<text x="252.78" y="525.90" font-size="9.5" font-weight="normal" fill="#141414" textLength="54.44" lengthAdjust="spacingAndGlyphs" >14-HpDPA<tspan font-size="7.0" dy="2.90" fill="#444" stroke="#444">n-6</tspan></text>
<text x="260.21" y="669.60" font-size="10.8" font-weight="normal" fill="#141414" textLength="39.69" lengthAdjust="spacingAndGlyphs" class="cond">Time (min)</text>
<g transform="translate(196.20,614.75) rotate(-90)"><text x="0" y="0" font-size="10.9" fill="#141414" class="cond" textLength="58.40" lengthAdjust="spacingAndGlyphs">Aggregation (%)</text></g>
<polyline points="428.50,561.75 428.91,561.77 429.31,561.79 429.72,561.82 430.12,561.84 430.53,561.87 430.93,561.90 431.34,561.93 431.74,561.96 432.15,561.99 432.55,562.03 432.95,562.07 433.36,562.11 433.76,562.15 434.17,562.20 434.57,562.24 434.98,562.30 435.38,562.35 435.79,562.41 436.19,562.47 436.60,562.54 437.00,562.61 437.40,562.68 437.81,562.76 438.21,562.85 438.62,562.93 439.02,563.03 439.43,563.13 439.83,563.24 440.24,563.35 440.64,563.47 441.05,563.60 441.45,563.73 441.85,563.87 442.26,564.02 442.66,564.18 443.07,564.35 443.47,564.53 443.88,564.73 444.28,564.93 444.69,565.14 445.09,565.37 445.50,565.60 445.90,565.86 446.30,566.12 446.71,566.40 447.11,566.70 447.52,567.01 447.92,567.34 448.33,567.69 448.73,568.06 449.14,568.45 449.54,568.85 449.95,569.28 450.35,569.73 450.75,570.20 451.16,570.69 451.56,571.21 451.97,571.76 452.37,572.33 452.78,572.92 453.18,573.54 453.59,574.19 453.99,574.87 454.40,575.57 454.80,576.30 455.20,577.07 455.61,577.86 456.01,578.68 456.42,579.52 456.82,580.40 457.23,581.31 457.63,582.24 458.04,583.20 458.44,584.19 458.85,585.20 459.25,586.24 459.65,587.31 460.06,588.39 460.46,589.50 460.87,590.63 461.27,591.77 461.68,592.93 462.08,594.11 462.49,595.29 462.89,596.49 463.30,597.70 463.70,598.91 464.10,600.12 464.51,601.33 464.91,602.55 465.32,603.76 465.72,604.96 466.13,606.16 466.53,607.34 466.94,608.52 467.34,609.67 467.75,610.82 468.15,611.94 468.55,613.04 468.96,614.13 469.36,615.18 469.77,616.22 470.17,617.23 470.58,618.21 470.98,619.17 471.39,620.10 471.79,621.00 472.20,621.87 472.60,622.72 473.00,623.53 473.41,624.32 473.81,625.08 474.22,625.80 474.62,626.50 475.03,627.18 475.43,627.82 475.84,628.44 476.24,629.03 476.65,629.59 477.05,630.13" fill="none" stroke="#6cb544" stroke-width="1.5" stroke-linejoin="round" />
<polyline points="425.95,560.98 426.38,560.98 426.80,560.99 427.23,561.00 427.65,561.00 428.08,561.01 428.50,561.02 428.93,561.02 429.36,561.03 429.78,561.04 430.21,561.05 430.63,561.06 431.06,561.07 431.49,561.08 431.91,561.10 432.34,561.11 432.76,561.13 433.19,561.14 433.61,561.16 434.04,561.18 434.47,561.20 434.89,561.22 435.32,561.24 435.74,561.27 436.17,561.30 436.60,561.32 437.02,561.35 437.45,561.39 437.87,561.42 438.30,561.46 438.72,561.50 439.15,561.55 439.58,561.60 440.00,561.65 440.43,561.70 440.85,561.76 441.28,561.82 441.71,561.89 442.13,561.96 442.56,562.04 442.98,562.13 443.41,562.22 443.83,562.31 444.26,562.42 444.69,562.53 445.11,562.65 445.54,562.78 445.96,562.91 446.39,563.06 446.82,563.22 447.24,563.39 447.67,563.57 448.09,563.76 448.52,563.97 448.94,564.19 449.37,564.42 449.80,564.67 450.22,564.94 450.65,565.23 451.07,565.54 451.50,565.86 451.93,566.21 452.35,566.58 452.78,566.97 453.20,567.39 453.63,567.84 454.05,568.31 454.48,568.80 454.91,569.33 455.33,569.89 455.76,570.48 456.18,571.11 456.61,571.76 457.04,572.45 457.46,573.18 457.89,573.94 458.31,574.74 458.74,575.58 459.16,576.45 459.59,577.37 460.02,578.32 460.44,579.30 460.87,580.32 461.29,581.38 461.72,582.48 462.15,583.60 462.57,584.76 463.00,585.95 463.42,587.16 463.85,588.40 464.27,589.67 464.70,590.95 465.13,592.25 465.55,593.56 465.98,594.89 466.40,596.22 466.83,597.56 467.26,598.89 467.68,600.22 468.11,601.55 468.53,602.86 468.96,604.16 469.38,605.45 469.81,606.71 470.24,607.95 470.66,609.17 471.09,610.35 471.51,611.51 471.94,612.64 472.37,613.73 472.79,614.79 473.22,615.81 473.64,616.80 474.07,617.75 474.50,618.66 474.92,619.53 475.35,620.37 475.77,621.17 476.20,621.93 476.62,622.66 477.05,623.35" fill="none" stroke="#1f3f80" stroke-width="1.5" stroke-linejoin="round" />
<line x1="436.17" y1="563.47" x2="436.17" y2="554.25" stroke="#1a1a1a" stroke-width="1.25" />
<line x1="433.17" y1="563.47" x2="439.17" y2="563.47" stroke="#1a1a1a" stroke-width="1.25" />
<line x1="433.17" y1="554.25" x2="439.17" y2="554.25" stroke="#1a1a1a" stroke-width="1.25" />
<line x1="443.83" y1="568.60" x2="443.83" y2="559.38" stroke="#1a1a1a" stroke-width="1.25" />
<line x1="440.83" y1="568.60" x2="446.83" y2="568.60" stroke="#1a1a1a" stroke-width="1.25" />
<line x1="440.83" y1="559.38" x2="446.83" y2="559.38" stroke="#1a1a1a" stroke-width="1.25" />
<line x1="451.50" y1="574.75" x2="451.50" y2="562.45" stroke="#1a1a1a" stroke-width="1.25" />
<line x1="448.50" y1="574.75" x2="454.50" y2="574.75" stroke="#1a1a1a" stroke-width="1.25" />
<line x1="448.50" y1="562.45" x2="454.50" y2="562.45" stroke="#1a1a1a" stroke-width="1.25" />
<line x1="461.72" y1="597.30" x2="461.72" y2="575.77" stroke="#1a1a1a" stroke-width="1.25" />
<line x1="458.72" y1="597.30" x2="464.72" y2="597.30" stroke="#1a1a1a" stroke-width="1.25" />
<line x1="458.72" y1="575.77" x2="464.72" y2="575.77" stroke="#1a1a1a" stroke-width="1.25" />
<line x1="469.38" y1="611.65" x2="469.38" y2="589.10" stroke="#1a1a1a" stroke-width="1.25" />
<line x1="466.38" y1="611.65" x2="472.38" y2="611.65" stroke="#1a1a1a" stroke-width="1.25" />
<line x1="466.38" y1="589.10" x2="472.38" y2="589.10" stroke="#1a1a1a" stroke-width="1.25" />
<line x1="477.05" y1="630.10" x2="477.05" y2="626.00" stroke="#1a1a1a" stroke-width="1.25" />
<line x1="474.05" y1="630.10" x2="480.05" y2="630.10" stroke="#1a1a1a" stroke-width="1.25" />
<line x1="474.05" y1="626.00" x2="480.05" y2="626.00" stroke="#1a1a1a" stroke-width="1.25" />
<line x1="436.17" y1="566.55" x2="436.17" y2="558.35" stroke="#1a1a1a" stroke-width="1.25" />
<line x1="433.17" y1="566.55" x2="439.17" y2="566.55" stroke="#1a1a1a" stroke-width="1.25" />
<line x1="433.17" y1="558.35" x2="439.17" y2="558.35" stroke="#1a1a1a" stroke-width="1.25" />
<line x1="443.83" y1="572.70" x2="443.83" y2="560.40" stroke="#1a1a1a" stroke-width="1.25" />
<line x1="440.83" y1="572.70" x2="446.83" y2="572.70" stroke="#1a1a1a" stroke-width="1.25" />
<line x1="440.83" y1="560.40" x2="446.83" y2="560.40" stroke="#1a1a1a" stroke-width="1.25" />
<line x1="451.50" y1="581.92" x2="451.50" y2="566.55" stroke="#1a1a1a" stroke-width="1.25" />
<line x1="448.50" y1="581.92" x2="454.50" y2="581.92" stroke="#1a1a1a" stroke-width="1.25" />
<line x1="448.50" y1="566.55" x2="454.50" y2="566.55" stroke="#1a1a1a" stroke-width="1.25" />
<line x1="461.72" y1="619.85" x2="461.72" y2="597.30" stroke="#1a1a1a" stroke-width="1.25" />
<line x1="458.72" y1="619.85" x2="464.72" y2="619.85" stroke="#1a1a1a" stroke-width="1.25" />
<line x1="458.72" y1="597.30" x2="464.72" y2="597.30" stroke="#1a1a1a" stroke-width="1.25" />
<line x1="469.38" y1="626.00" x2="469.38" y2="603.45" stroke="#1a1a1a" stroke-width="1.25" />
<line x1="466.38" y1="626.00" x2="472.38" y2="626.00" stroke="#1a1a1a" stroke-width="1.25" />
<line x1="466.38" y1="603.45" x2="472.38" y2="603.45" stroke="#1a1a1a" stroke-width="1.25" />
<circle cx="425.95" cy="559.89" r="2.7" fill="#fff" stroke="#6cb544" stroke-width="1.0"/>
<circle cx="436.17" cy="562.65" r="2.7" fill="#fff" stroke="#6cb544" stroke-width="1.0"/>
<circle cx="443.83" cy="565.63" r="2.7" fill="#fff" stroke="#6cb544" stroke-width="1.0"/>
<circle cx="451.50" cy="571.67" r="2.7" fill="#fff" stroke="#6cb544" stroke-width="1.0"/>
<circle cx="461.72" cy="608.57" r="2.7" fill="#fff" stroke="#6cb544" stroke-width="1.0"/>
<circle cx="469.38" cy="614.21" r="2.7" fill="#fff" stroke="#6cb544" stroke-width="1.0"/>
<circle cx="477.05" cy="632.87" r="2.7" fill="#fff" stroke="#6cb544" stroke-width="1.0"/>
<circle cx="425.95" cy="559.89" r="3.0" fill="#1f3f80"/>
<circle cx="436.17" cy="558.76" r="3.0" fill="#1f3f80"/>
<circle cx="443.83" cy="564.19" r="3.0" fill="#1f3f80"/>
<circle cx="451.50" cy="570.75" r="3.0" fill="#1f3f80"/>
<circle cx="461.72" cy="586.23" r="3.0" fill="#1f3f80"/>
<circle cx="469.38" cy="600.17" r="3.0" fill="#1f3f80"/>
<circle cx="477.05" cy="628.05" r="3.0" fill="#1f3f80"/>
<line x1="400.00" y1="532.80" x2="400.00" y2="638.90" stroke="#111" stroke-width="1.4" />
<line x1="399.40" y1="638.30" x2="506.60" y2="638.30" stroke="#111" stroke-width="1.4" />
<line x1="396.70" y1="638.30" x2="400.00" y2="638.30" stroke="#111" stroke-width="1.1" />
<text x="393.75" y="641.05" font-size="9.5" text-anchor="end" fill="#141414" textLength="5.55" lengthAdjust="spacingAndGlyphs">0</text>
<line x1="396.70" y1="617.80" x2="400.00" y2="617.80" stroke="#111" stroke-width="1.1" />
<text x="393.75" y="620.55" font-size="9.5" text-anchor="end" fill="#141414" textLength="11.10" lengthAdjust="spacingAndGlyphs">20</text>
<line x1="396.70" y1="597.30" x2="400.00" y2="597.30" stroke="#111" stroke-width="1.1" />
<text x="393.75" y="600.05" font-size="9.5" text-anchor="end" fill="#141414" textLength="11.10" lengthAdjust="spacingAndGlyphs">40</text>
<line x1="396.70" y1="576.80" x2="400.00" y2="576.80" stroke="#111" stroke-width="1.1" />
<text x="393.75" y="579.55" font-size="9.5" text-anchor="end" fill="#141414" textLength="11.10" lengthAdjust="spacingAndGlyphs">60</text>
<line x1="396.70" y1="556.30" x2="400.00" y2="556.30" stroke="#111" stroke-width="1.1" />
<text x="393.75" y="559.05" font-size="9.5" text-anchor="end" fill="#141414" textLength="11.10" lengthAdjust="spacingAndGlyphs">80</text>
<line x1="396.70" y1="535.80" x2="400.00" y2="535.80" stroke="#111" stroke-width="1.1" />
<text x="393.75" y="538.55" font-size="9.5" text-anchor="end" fill="#141414" textLength="16.65" lengthAdjust="spacingAndGlyphs">100</text>
<line x1="400.40" y1="638.30" x2="400.40" y2="641.10" stroke="#111" stroke-width="1.1" />
<line x1="408.09" y1="638.30" x2="408.09" y2="640.00" stroke="#333" stroke-width="0.8" />
<line x1="412.59" y1="638.30" x2="412.59" y2="640.00" stroke="#333" stroke-width="0.8" />
<line x1="415.78" y1="638.30" x2="415.78" y2="640.00" stroke="#333" stroke-width="0.8" />
<line x1="418.26" y1="638.30" x2="418.26" y2="640.00" stroke="#333" stroke-width="0.8" />
<line x1="420.28" y1="638.30" x2="420.28" y2="640.00" stroke="#333" stroke-width="0.8" />
<line x1="421.99" y1="638.30" x2="421.99" y2="640.00" stroke="#333" stroke-width="0.8" />
<line x1="423.47" y1="638.30" x2="423.47" y2="640.00" stroke="#333" stroke-width="0.8" />
<line x1="424.78" y1="638.30" x2="424.78" y2="640.00" stroke="#333" stroke-width="0.8" />
<text x="392.38" y="653.80" font-size="9.4" font-weight="normal" fill="#141414" textLength="10.43" lengthAdjust="spacingAndGlyphs" >10</text>
<text x="402.36" y="650.00" font-size="6.2" font-weight="normal" fill="#141414" textLength="6.68" lengthAdjust="spacingAndGlyphs" >-9</text>
<line x1="425.95" y1="638.30" x2="425.95" y2="641.10" stroke="#111" stroke-width="1.1" />
<line x1="433.64" y1="638.30" x2="433.64" y2="640.00" stroke="#333" stroke-width="0.8" />
<line x1="438.14" y1="638.30" x2="438.14" y2="640.00" stroke="#333" stroke-width="0.8" />
<line x1="441.33" y1="638.30" x2="441.33" y2="640.00" stroke="#333" stroke-width="0.8" />
<line x1="443.81" y1="638.30" x2="443.81" y2="640.00" stroke="#333" stroke-width="0.8" />
<line x1="445.83" y1="638.30" x2="445.83" y2="640.00" stroke="#333" stroke-width="0.8" />
<line x1="447.54" y1="638.30" x2="447.54" y2="640.00" stroke="#333" stroke-width="0.8" />
<line x1="449.02" y1="638.30" x2="449.02" y2="640.00" stroke="#333" stroke-width="0.8" />
<line x1="450.33" y1="638.30" x2="450.33" y2="640.00" stroke="#333" stroke-width="0.8" />
<text x="417.93" y="653.80" font-size="9.4" font-weight="normal" fill="#141414" textLength="10.43" lengthAdjust="spacingAndGlyphs" >10</text>
<text x="427.91" y="650.00" font-size="6.2" font-weight="normal" fill="#141414" textLength="6.68" lengthAdjust="spacingAndGlyphs" >-8</text>
<line x1="451.50" y1="638.30" x2="451.50" y2="641.10" stroke="#111" stroke-width="1.1" />
<line x1="459.19" y1="638.30" x2="459.19" y2="640.00" stroke="#333" stroke-width="0.8" />
<line x1="463.69" y1="638.30" x2="463.69" y2="640.00" stroke="#333" stroke-width="0.8" />
<line x1="466.88" y1="638.30" x2="466.88" y2="640.00" stroke="#333" stroke-width="0.8" />
<line x1="469.36" y1="638.30" x2="469.36" y2="640.00" stroke="#333" stroke-width="0.8" />
<line x1="471.38" y1="638.30" x2="471.38" y2="640.00" stroke="#333" stroke-width="0.8" />
<line x1="473.09" y1="638.30" x2="473.09" y2="640.00" stroke="#333" stroke-width="0.8" />
<line x1="474.57" y1="638.30" x2="474.57" y2="640.00" stroke="#333" stroke-width="0.8" />
<line x1="475.88" y1="638.30" x2="475.88" y2="640.00" stroke="#333" stroke-width="0.8" />
<text x="443.48" y="653.80" font-size="9.4" font-weight="normal" fill="#141414" textLength="10.43" lengthAdjust="spacingAndGlyphs" >10</text>
<text x="453.46" y="650.00" font-size="6.2" font-weight="normal" fill="#141414" textLength="6.68" lengthAdjust="spacingAndGlyphs" >-7</text>
<line x1="477.05" y1="638.30" x2="477.05" y2="641.10" stroke="#111" stroke-width="1.1" />
<line x1="484.74" y1="638.30" x2="484.74" y2="640.00" stroke="#333" stroke-width="0.8" />
<line x1="489.24" y1="638.30" x2="489.24" y2="640.00" stroke="#333" stroke-width="0.8" />
<line x1="492.43" y1="638.30" x2="492.43" y2="640.00" stroke="#333" stroke-width="0.8" />
<line x1="494.91" y1="638.30" x2="494.91" y2="640.00" stroke="#333" stroke-width="0.8" />
<line x1="496.93" y1="638.30" x2="496.93" y2="640.00" stroke="#333" stroke-width="0.8" />
<line x1="498.64" y1="638.30" x2="498.64" y2="640.00" stroke="#333" stroke-width="0.8" />
<line x1="500.12" y1="638.30" x2="500.12" y2="640.00" stroke="#333" stroke-width="0.8" />
<line x1="501.43" y1="638.30" x2="501.43" y2="640.00" stroke="#333" stroke-width="0.8" />
<text x="469.03" y="653.80" font-size="9.4" font-weight="normal" fill="#141414" textLength="10.43" lengthAdjust="spacingAndGlyphs" >10</text>
<text x="479.01" y="650.00" font-size="6.2" font-weight="normal" fill="#141414" textLength="6.68" lengthAdjust="spacingAndGlyphs" >-6</text>
<line x1="502.60" y1="638.30" x2="502.60" y2="641.10" stroke="#111" stroke-width="1.1" />
<text x="494.58" y="653.80" font-size="9.4" font-weight="normal" fill="#141414" textLength="10.43" lengthAdjust="spacingAndGlyphs" >10</text>
<text x="504.56" y="650.00" font-size="6.2" font-weight="normal" fill="#141414" textLength="6.68" lengthAdjust="spacingAndGlyphs" >-5</text>
<text x="434.88" y="525.50" font-size="9.5" font-weight="normal" fill="#141414" textLength="37.15" lengthAdjust="spacingAndGlyphs" >Collagen</text>
<line x1="443.00" y1="536.70" x2="451.80" y2="536.70" stroke="#1f3f80" stroke-width="1.3" />
<ellipse cx="447.40" cy="536.70" rx="3.0" ry="2.5" fill="#1f3f80"/>
<text x="455.18" y="539.30" font-size="9.4" font-weight="normal" fill="#141414" textLength="51.53" lengthAdjust="spacingAndGlyphs" >11-HpDPA<tspan font-size="6.6" dy="3.00" fill="#444" stroke="#444">n-6</tspan></text>
<line x1="443.00" y1="551.10" x2="451.80" y2="551.10" stroke="#6cb544" stroke-width="1.3" />
<ellipse cx="447.40" cy="551.10" rx="2.6" ry="2.2" fill="#fff" stroke="#6cb544" stroke-width="1.2"/>
<line x1="443.00" y1="551.10" x2="451.80" y2="551.10" stroke="#6cb544" stroke-width="1.2" />
<text x="455.18" y="553.70" font-size="9.4" font-weight="normal" fill="#141414" textLength="51.53" lengthAdjust="spacingAndGlyphs" >14-HpDPA<tspan font-size="6.6" dy="3.00" fill="#444" stroke="#444">n-6</tspan></text>
<text x="417.81" y="669.80" font-size="10.8" font-weight="normal" fill="#141414" textLength="71.39" lengthAdjust="spacingAndGlyphs" class="cond">Log [fatty acid] (M)</text>
<g transform="translate(370.10,624.30) rotate(-90)"><text x="0" y="0" font-size="10.9" fill="#141414" class="cond" textLength="77.30" lengthAdjust="spacingAndGlyphs">Final aggregation (%)</text></g>
<line x1="51.70" y1="688.80" x2="70.80" y2="688.80" stroke="#000" stroke-width="2.3" />
<text x="73.99" y="691.50" font-size="9.2" font-weight="normal" fill="#141414" textLength="28.01" lengthAdjust="spacingAndGlyphs" >DMSO</text>
<line x1="112.90" y1="688.80" x2="132.30" y2="688.80" stroke="#2d48a6" stroke-width="2.0" />
<text x="135.79" y="691.50" font-size="9.2" font-weight="normal" fill="#141414" textLength="25.61" lengthAdjust="spacingAndGlyphs" >50 nM</text>
<circle cx="172.30" cy="688.80" r="1.15" fill="#e8241c"/>
<circle cx="182.20" cy="688.80" r="1.15" fill="#e8241c"/>
<circle cx="191.40" cy="688.80" r="1.15" fill="#e8241c"/>
<text x="195.69" y="691.50" font-size="9.2" font-weight="normal" fill="#141414" textLength="30.21" lengthAdjust="spacingAndGlyphs" >100 nM</text>
<line x1="236.20" y1="688.80" x2="256.20" y2="688.80" stroke="#d5d5d5" stroke-width="2.0" />
<text x="259.29" y="691.50" font-size="9.2" font-weight="normal" fill="#141414" textLength="31.21" lengthAdjust="spacingAndGlyphs" >500 nM</text>
<line x1="300.80" y1="688.80" x2="320.80" y2="688.80" stroke="#3d8a2e" stroke-width="2.0" />
<text x="323.99" y="691.50" font-size="9.2" font-weight="normal" fill="#141414" textLength="20.31" lengthAdjust="spacingAndGlyphs" >1 μM</text>
<rect x="0.00" y="0.00" width="520.00" height="1.20" fill="#000"/>
<rect x="0.00" y="0.00" width="1.20" height="702.00" fill="#000"/>
<rect x="518.20" y="0.00" width="1.80" height="702.00" fill="#000"/>
<rect x="0.00" y="700.30" width="520.00" height="1.70" fill="#000"/>
</svg></body></html>
